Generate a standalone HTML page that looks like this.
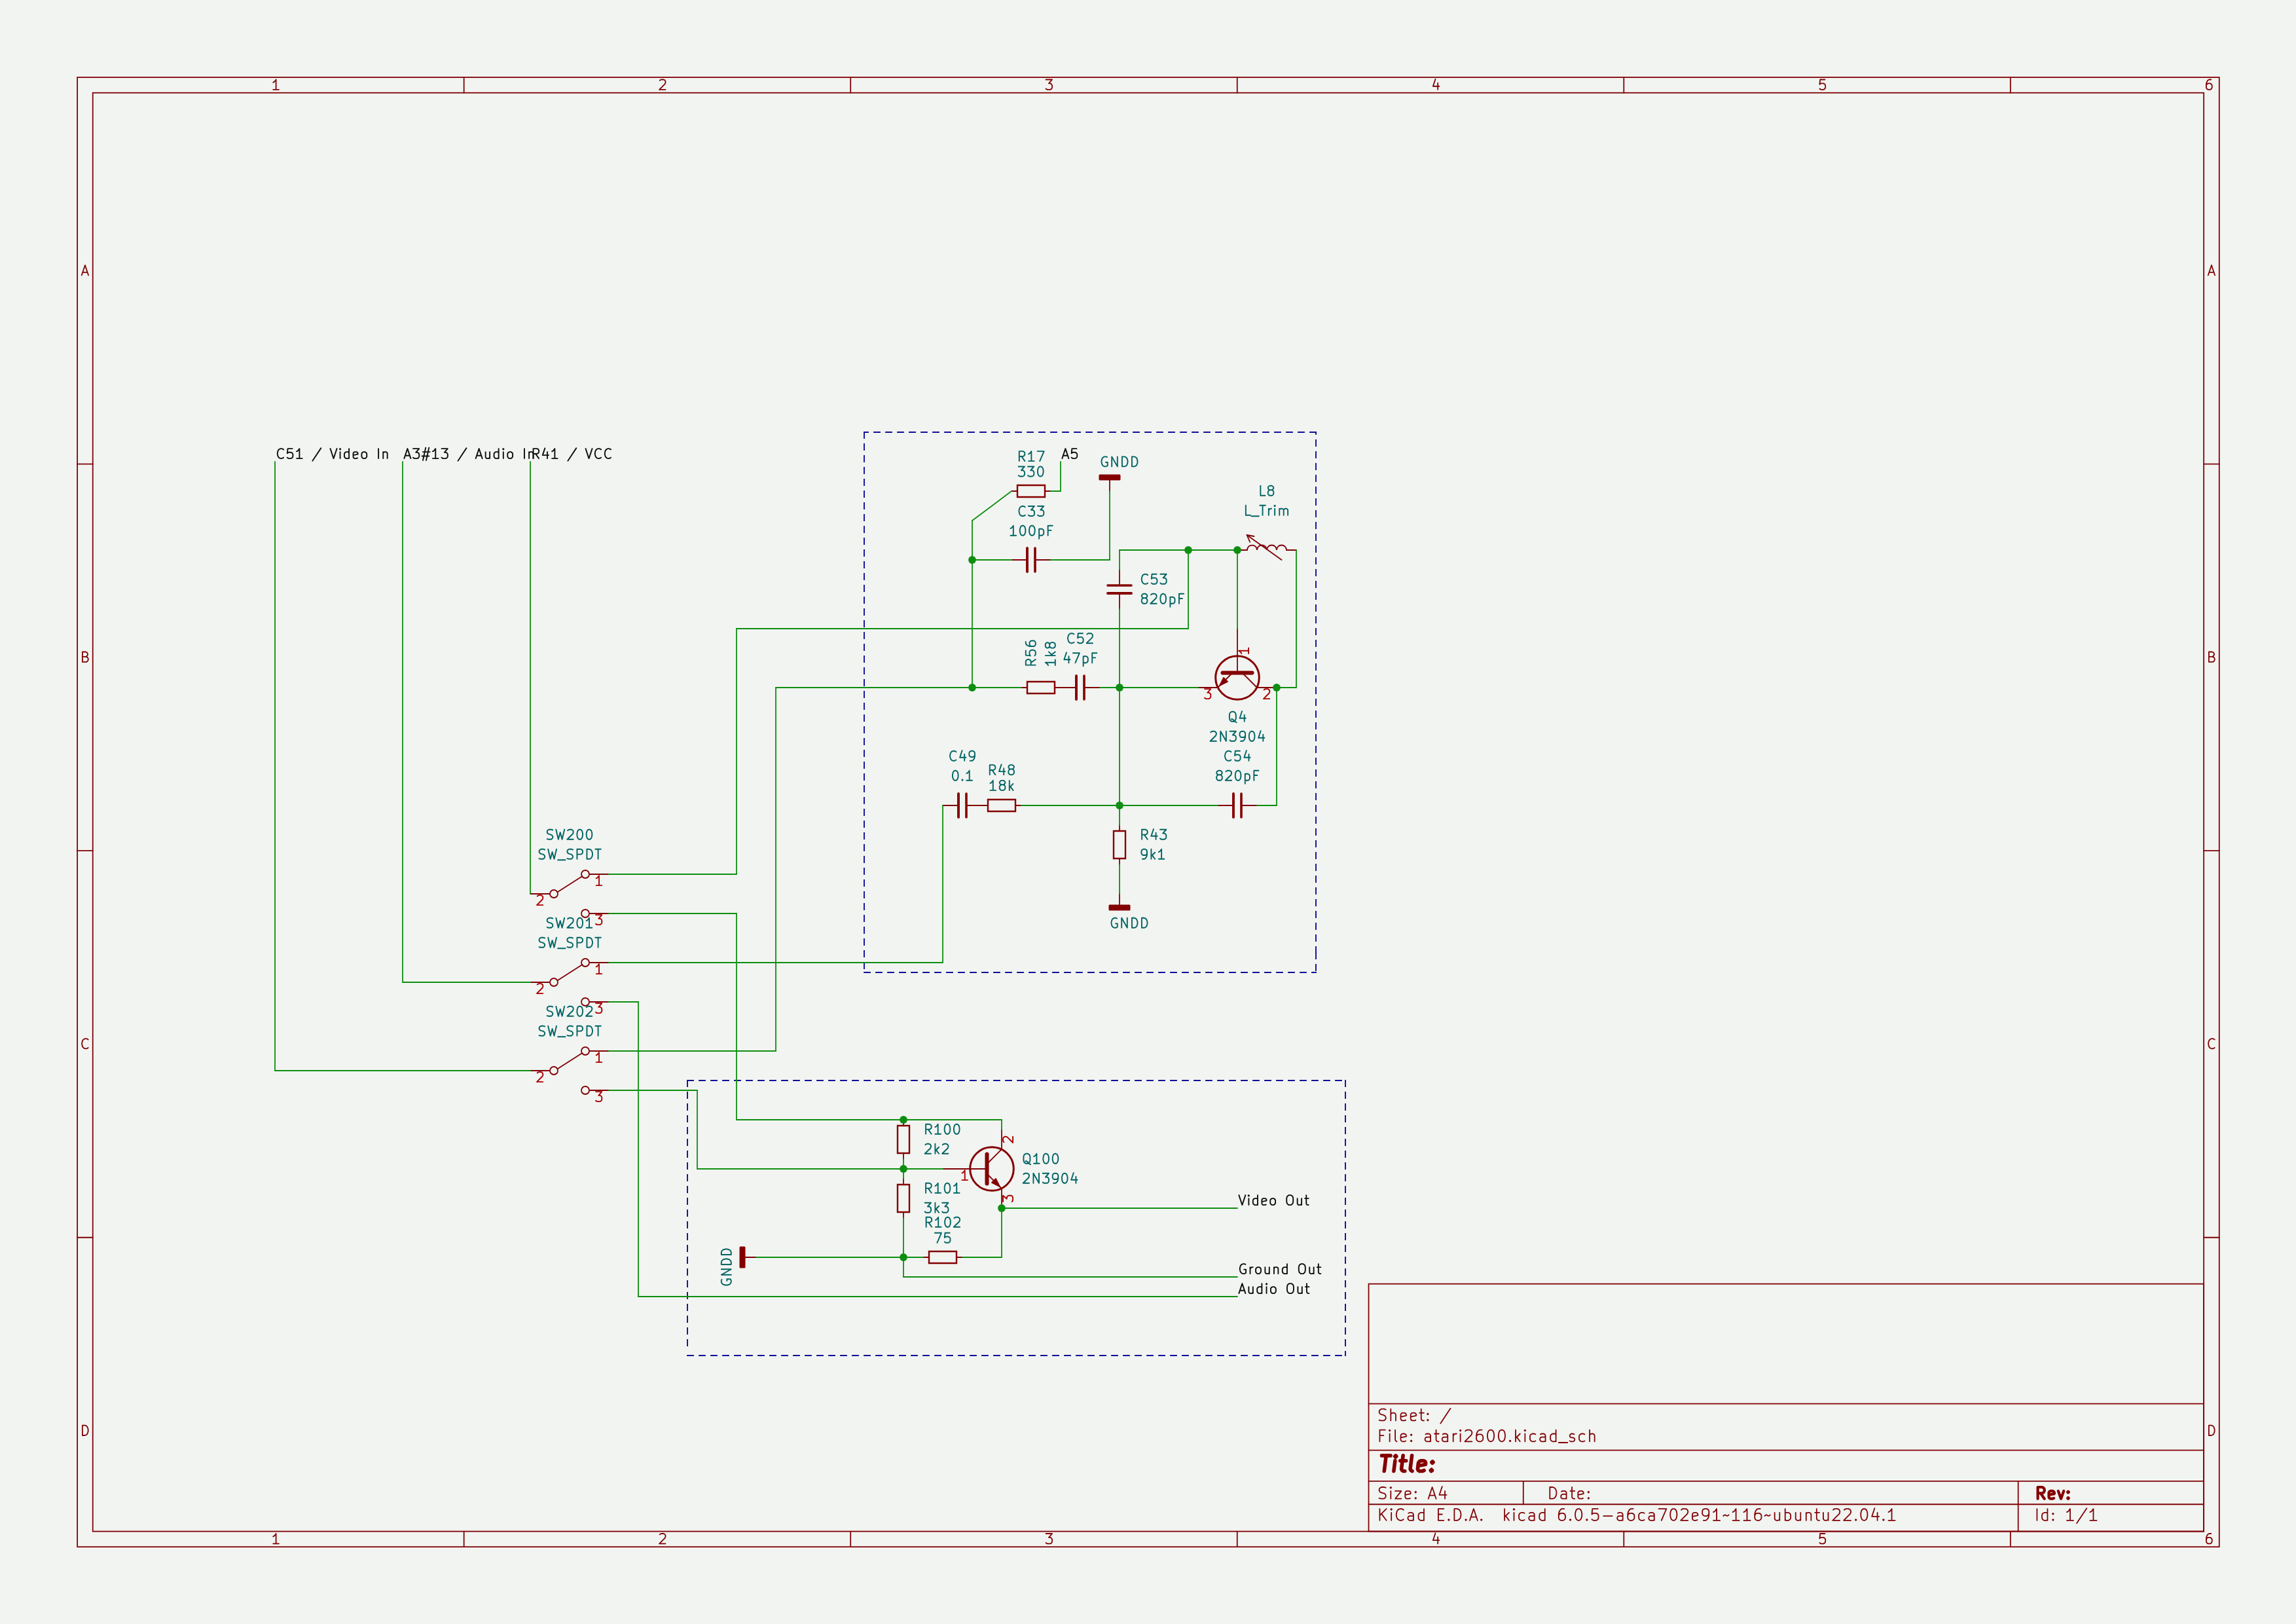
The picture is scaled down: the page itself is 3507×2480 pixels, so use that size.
<!DOCTYPE html>
<html><head><meta charset="utf-8"><title>atari2600</title>
<style>html,body{margin:0;padding:0;width:3507px;height:2480px;overflow:hidden;background:#f2f4f1;font-family:"Liberation Sans",sans-serif}svg{display:block;width:3507px;height:2480px}</style>
</head><body><svg width="3507" height="2480" viewBox="0 0 3507 2480"><rect x="118.11" y="118.11" width="3271.65" height="2244.09" stroke="#800206" stroke-width="1.8" fill="none"/>
<rect x="141.73" y="141.73" width="3224.4" height="2196.85" stroke="#800206" stroke-width="1.8" fill="none"/>
<path d="M708.66 118.11L708.66 141.73" stroke="#800206" stroke-width="1.8" stroke-linecap="round" fill="none"/>
<path d="M708.66 2362.2L708.66 2338.58" stroke="#800206" stroke-width="1.8" stroke-linecap="round" fill="none"/>
<path d="M1299.21 118.11L1299.21 141.73" stroke="#800206" stroke-width="1.8" stroke-linecap="round" fill="none"/>
<path d="M1299.21 2362.2L1299.21 2338.58" stroke="#800206" stroke-width="1.8" stroke-linecap="round" fill="none"/>
<path d="M1889.76 118.11L1889.76 141.73" stroke="#800206" stroke-width="1.8" stroke-linecap="round" fill="none"/>
<path d="M1889.76 2362.2L1889.76 2338.58" stroke="#800206" stroke-width="1.8" stroke-linecap="round" fill="none"/>
<path d="M2480.31 118.11L2480.31 141.73" stroke="#800206" stroke-width="1.8" stroke-linecap="round" fill="none"/>
<path d="M2480.31 2362.2L2480.31 2338.58" stroke="#800206" stroke-width="1.8" stroke-linecap="round" fill="none"/>
<path d="M3070.86 118.11L3070.86 141.73" stroke="#800206" stroke-width="1.8" stroke-linecap="round" fill="none"/>
<path d="M3070.86 2362.2L3070.86 2338.58" stroke="#800206" stroke-width="1.8" stroke-linecap="round" fill="none"/>
<path transform="translate(413.38 129.92)" d="M12.6 6.95L3.82 6.95M8.21 6.95L8.21 -8.41L6.75 -6.21L5.29 -4.75L3.82 -4.02" stroke="#800206" stroke-width="1.8" stroke-linecap="round" stroke-linejoin="round" fill="none"/>
<path transform="translate(413.38 2350.39)" d="M12.6 6.95L3.82 6.95M8.21 6.95L8.21 -8.41L6.75 -6.21L5.29 -4.75L3.82 -4.02" stroke="#800206" stroke-width="1.8" stroke-linecap="round" stroke-linejoin="round" fill="none"/>
<path transform="translate(1003.93 129.92)" d="M3.82 -6.95L4.56 -7.68L6.02 -8.41L9.67 -8.41L11.14 -7.68L11.87 -6.95L12.6 -5.48L12.6 -4.02L11.87 -1.83L3.09 6.95L12.6 6.95" stroke="#800206" stroke-width="1.8" stroke-linecap="round" stroke-linejoin="round" fill="none"/>
<path transform="translate(1003.93 2350.39)" d="M3.82 -6.95L4.56 -7.68L6.02 -8.41L9.67 -8.41L11.14 -7.68L11.87 -6.95L12.6 -5.48L12.6 -4.02L11.87 -1.83L3.09 6.95L12.6 6.95" stroke="#800206" stroke-width="1.8" stroke-linecap="round" stroke-linejoin="round" fill="none"/>
<path transform="translate(1594.48 129.92)" d="M3.09 -8.41L12.6 -8.41L7.48 -2.56L9.67 -2.56L11.14 -1.83L11.87 -1.1L12.6 0.37L12.6 4.02L11.87 5.48L11.14 6.21L9.67 6.95L5.29 6.95L3.82 6.21L3.09 5.48" stroke="#800206" stroke-width="1.8" stroke-linecap="round" stroke-linejoin="round" fill="none"/>
<path transform="translate(1594.48 2350.39)" d="M3.09 -8.41L12.6 -8.41L7.48 -2.56L9.67 -2.56L11.14 -1.83L11.87 -1.1L12.6 0.37L12.6 4.02L11.87 5.48L11.14 6.21L9.67 6.95L5.29 6.95L3.82 6.21L3.09 5.48" stroke="#800206" stroke-width="1.8" stroke-linecap="round" stroke-linejoin="round" fill="none"/>
<path transform="translate(2185.03 129.92)" d="M11.14 -3.29L11.14 6.95M7.48 -9.14L3.82 1.83L13.33 1.83" stroke="#800206" stroke-width="1.8" stroke-linecap="round" stroke-linejoin="round" fill="none"/>
<path transform="translate(2185.03 2350.39)" d="M11.14 -3.29L11.14 6.95M7.48 -9.14L3.82 1.83L13.33 1.83" stroke="#800206" stroke-width="1.8" stroke-linecap="round" stroke-linejoin="round" fill="none"/>
<path transform="translate(2775.59 129.92)" d="M11.87 -8.41L4.56 -8.41L3.82 -1.1L4.56 -1.83L6.02 -2.56L9.67 -2.56L11.14 -1.83L11.87 -1.1L12.6 0.37L12.6 4.02L11.87 5.48L11.14 6.21L9.67 6.95L6.02 6.95L4.56 6.21L3.82 5.48" stroke="#800206" stroke-width="1.8" stroke-linecap="round" stroke-linejoin="round" fill="none"/>
<path transform="translate(2775.59 2350.39)" d="M11.87 -8.41L4.56 -8.41L3.82 -1.1L4.56 -1.83L6.02 -2.56L9.67 -2.56L11.14 -1.83L11.87 -1.1L12.6 0.37L12.6 4.02L11.87 5.48L11.14 6.21L9.67 6.95L6.02 6.95L4.56 6.21L3.82 5.48" stroke="#800206" stroke-width="1.8" stroke-linecap="round" stroke-linejoin="round" fill="none"/>
<path transform="translate(3366.13 129.92)" d="M11.14 -8.41L8.21 -8.41L6.75 -7.68L6.02 -6.95L4.56 -4.75L3.82 -1.83L3.82 4.02L4.56 5.48L5.29 6.21L6.75 6.95L9.67 6.95L11.14 6.21L11.87 5.48L12.6 4.02L12.6 0.37L11.87 -1.1L11.14 -1.83L9.67 -2.56L6.75 -2.56L5.29 -1.83L4.56 -1.1L3.82 0.37" stroke="#800206" stroke-width="1.8" stroke-linecap="round" stroke-linejoin="round" fill="none"/>
<path transform="translate(3366.13 2350.39)" d="M11.14 -8.41L8.21 -8.41L6.75 -7.68L6.02 -6.95L4.56 -4.75L3.82 -1.83L3.82 4.02L4.56 5.48L5.29 6.21L6.75 6.95L9.67 6.95L11.14 6.21L11.87 5.48L12.6 4.02L12.6 0.37L11.87 -1.1L11.14 -1.83L9.67 -2.56L6.75 -2.56L5.29 -1.83L4.56 -1.1L3.82 0.37" stroke="#800206" stroke-width="1.8" stroke-linecap="round" stroke-linejoin="round" fill="none"/>
<path d="M118.11 708.66L141.73 708.66" stroke="#800206" stroke-width="1.8" stroke-linecap="round" fill="none"/>
<path d="M3389.76 708.66L3366.13 708.66" stroke="#800206" stroke-width="1.8" stroke-linecap="round" fill="none"/>
<path d="M118.11 1299.21L141.73 1299.21" stroke="#800206" stroke-width="1.8" stroke-linecap="round" fill="none"/>
<path d="M3389.76 1299.21L3366.13 1299.21" stroke="#800206" stroke-width="1.8" stroke-linecap="round" fill="none"/>
<path d="M118.11 1889.76L141.73 1889.76" stroke="#800206" stroke-width="1.8" stroke-linecap="round" fill="none"/>
<path d="M3389.76 1889.76L3366.13 1889.76" stroke="#800206" stroke-width="1.8" stroke-linecap="round" fill="none"/>
<path transform="translate(129.92 413.38)" d="M-3.66 2.56L3.66 2.56M-5.12 6.95L0 -8.41L5.12 6.95" stroke="#800206" stroke-width="1.8" stroke-linecap="round" stroke-linejoin="round" fill="none"/>
<path transform="translate(3377.95 413.38)" d="M-3.66 2.56L3.66 2.56M-5.12 6.95L0 -8.41L5.12 6.95" stroke="#800206" stroke-width="1.8" stroke-linecap="round" stroke-linejoin="round" fill="none"/>
<path transform="translate(129.92 1003.93)" d="M1.1 -1.1L3.29 -0.37L4.02 0.37L4.75 1.83L4.75 4.02L4.02 5.48L3.29 6.21L1.83 6.95L-4.02 6.95L-4.02 -8.41L1.1 -8.41L2.56 -7.68L3.29 -6.95L4.02 -5.48L4.02 -4.02L3.29 -2.56L2.56 -1.83L1.1 -1.1L-4.02 -1.1" stroke="#800206" stroke-width="1.8" stroke-linecap="round" stroke-linejoin="round" fill="none"/>
<path transform="translate(3377.95 1003.93)" d="M1.1 -1.1L3.29 -0.37L4.02 0.37L4.75 1.83L4.75 4.02L4.02 5.48L3.29 6.21L1.83 6.95L-4.02 6.95L-4.02 -8.41L1.1 -8.41L2.56 -7.68L3.29 -6.95L4.02 -5.48L4.02 -4.02L3.29 -2.56L2.56 -1.83L1.1 -1.1L-4.02 -1.1" stroke="#800206" stroke-width="1.8" stroke-linecap="round" stroke-linejoin="round" fill="none"/>
<path transform="translate(129.92 1594.48)" d="M4.75 5.48L4.02 6.21L1.83 6.95L0.37 6.95L-1.83 6.21L-3.29 4.75L-4.02 3.29L-4.75 0.37L-4.75 -1.83L-4.02 -4.75L-3.29 -6.21L-1.83 -7.68L0.37 -8.41L1.83 -8.41L4.02 -7.68L4.75 -6.95" stroke="#800206" stroke-width="1.8" stroke-linecap="round" stroke-linejoin="round" fill="none"/>
<path transform="translate(3377.95 1594.48)" d="M4.75 5.48L4.02 6.21L1.83 6.95L0.37 6.95L-1.83 6.21L-3.29 4.75L-4.02 3.29L-4.75 0.37L-4.75 -1.83L-4.02 -4.75L-3.29 -6.21L-1.83 -7.68L0.37 -8.41L1.83 -8.41L4.02 -7.68L4.75 -6.95" stroke="#800206" stroke-width="1.8" stroke-linecap="round" stroke-linejoin="round" fill="none"/>
<path transform="translate(129.92 2185.03)" d="M-4.02 6.95L-4.02 -8.41L-0.37 -8.41L1.83 -7.68L3.29 -6.21L4.02 -4.75L4.75 -1.83L4.75 0.37L4.02 3.29L3.29 4.75L1.83 6.21L-0.37 6.95L-4.02 6.95" stroke="#800206" stroke-width="1.8" stroke-linecap="round" stroke-linejoin="round" fill="none"/>
<path transform="translate(3377.95 2185.03)" d="M-4.02 6.95L-4.02 -8.41L-0.37 -8.41L1.83 -7.68L3.29 -6.21L4.02 -4.75L4.75 -1.83L4.75 0.37L4.02 3.29L3.29 4.75L1.83 6.21L-0.37 6.95L-4.02 6.95" stroke="#800206" stroke-width="1.8" stroke-linecap="round" stroke-linejoin="round" fill="none"/>
<rect x="2090.55" y="1960.63" width="1275.59" height="377.95" stroke="#800206" stroke-width="1.8" fill="none"/>
<path d="M2090.55 2297.24L3366.13 2297.24" stroke="#800206" stroke-width="1.8" stroke-linecap="round" fill="none"/>
<path d="M2090.55 2261.81L3366.13 2261.81" stroke="#800206" stroke-width="1.8" stroke-linecap="round" fill="none"/>
<path d="M2090.55 2214.56L3366.13 2214.56" stroke="#800206" stroke-width="1.8" stroke-linecap="round" fill="none"/>
<path d="M2090.55 2143.7L3366.13 2143.7" stroke="#800206" stroke-width="1.8" stroke-linecap="round" fill="none"/>
<path d="M2326.77 2261.81L2326.77 2297.24" stroke="#800206" stroke-width="1.8" stroke-linecap="round" fill="none"/>
<path d="M3082.67 2261.81L3082.67 2338.58" stroke="#800206" stroke-width="1.8" stroke-linecap="round" fill="none"/>
<path transform="translate(2362.2 2280.7)" d="M5.12 8.01L5.12 -9.7L9.34 -9.7L11.87 -8.86L13.55 -7.17L14.4 -5.48L15.24 -2.11L15.24 0.42L14.4 3.8L13.55 5.48L11.87 7.17L9.34 8.01L5.12 8.01M30.43 8.01L30.43 -1.27L29.58 -2.95L27.9 -3.8L24.52 -3.8L22.83 -2.95M30.43 7.17L28.74 8.01L24.52 8.01L22.83 7.17L21.99 5.48L21.99 3.8L22.83 2.11L24.52 1.27L28.74 1.27L30.43 0.42M36.33 -3.8L43.08 -3.8M38.86 -9.7L38.86 5.48L39.71 7.17L41.39 8.01L43.08 8.01M55.74 7.17L54.05 8.01L50.67 8.01L48.99 7.17L48.14 5.48L48.14 -1.27L48.99 -2.95L50.67 -3.8L54.05 -3.8L55.74 -2.95L56.58 -1.27L56.58 0.42L48.14 2.11M64.17 6.33L65.02 7.17L64.17 8.01L63.33 7.17L64.17 6.33L64.17 8.01M64.17 -2.95L65.02 -2.11L64.17 -1.27L63.33 -2.11L64.17 -2.95L64.17 -1.27" stroke="#800206" stroke-width="1.8" stroke-linecap="round" stroke-linejoin="round" fill="none"/>
<path transform="translate(2102.36 2313.77)" d="M5.12 8.01L5.12 -9.7M15.24 8.01L7.65 -2.11M15.24 -9.7L5.12 0.42M22.83 8.01L22.83 -3.8M21.99 -8.86L22.83 -9.7L23.68 -8.86L22.83 -8.01L21.99 -8.86L22.83 -9.7M41.39 6.33L40.55 7.17L38.02 8.01L36.33 8.01L33.8 7.17L32.11 5.48L31.27 3.8L30.43 0.42L30.43 -2.11L31.27 -5.48L32.11 -7.17L33.8 -8.86L36.33 -9.7L38.02 -9.7L40.55 -8.86L41.39 -8.01M56.58 8.01L56.58 -1.27L55.74 -2.95L54.05 -3.8L50.67 -3.8L48.99 -2.95M56.58 7.17L54.89 8.01L50.67 8.01L48.99 7.17L48.14 5.48L48.14 3.8L48.99 2.11L50.67 1.27L54.89 1.27L56.58 0.42M72.61 8.01L72.61 -9.7M72.61 7.17L70.92 8.01L67.55 8.01L65.86 7.17L65.02 6.33L64.17 4.64L64.17 -0.42L65.02 -2.11L65.86 -2.95L67.55 -3.8L70.92 -3.8L72.61 -2.95M94.54 -1.27L100.45 -1.27M102.98 8.01L94.54 8.01L94.54 -9.7L102.98 -9.7M110.57 6.33L111.42 7.17L110.57 8.01L109.73 7.17L110.57 6.33L110.57 8.01M119.01 8.01L119.01 -9.7L123.23 -9.7L125.76 -8.86L127.45 -7.17L128.29 -5.48L129.13 -2.11L129.13 0.42L128.29 3.8L127.45 5.48L125.76 7.17L123.23 8.01L119.01 8.01M136.73 6.33L137.57 7.17L136.73 8.01L135.88 7.17L136.73 6.33L136.73 8.01M144.32 2.95L152.76 2.95M142.63 8.01L148.54 -9.7L154.44 8.01M160.35 6.33L161.19 7.17L160.35 8.01L159.5 7.17L160.35 6.33L160.35 8.01M195.78 8.01L195.78 -9.7M197.47 1.27L202.53 8.01M202.53 -3.8L195.78 2.95M210.12 8.01L210.12 -3.8M209.28 -8.86L210.12 -9.7L210.97 -8.86L210.12 -8.01L209.28 -8.86L210.12 -9.7M226.15 7.17L224.47 8.01L221.09 8.01L219.4 7.17L218.56 6.33L217.72 4.64L217.72 -0.42L218.56 -2.11L219.4 -2.95L221.09 -3.8L224.47 -3.8L226.15 -2.95M241.34 8.01L241.34 -1.27L240.49 -2.95L238.81 -3.8L235.43 -3.8L233.75 -2.95M241.34 7.17L239.65 8.01L235.43 8.01L233.75 7.17L232.9 5.48L232.9 3.8L233.75 2.11L235.43 1.27L239.65 1.27L241.34 0.42M257.37 8.01L257.37 -9.7M257.37 7.17L255.68 8.01L252.31 8.01L250.62 7.17L249.77 6.33L248.93 4.64L248.93 -0.42L249.77 -2.11L250.62 -2.95L252.31 -3.8L255.68 -3.8L257.37 -2.95M286.89 -9.7L283.52 -9.7L281.83 -8.86L280.99 -8.01L279.3 -5.48L278.46 -2.11L278.46 4.64L279.3 6.33L280.15 7.17L281.83 8.01L285.21 8.01L286.89 7.17L287.74 6.33L288.58 4.64L288.58 0.42L287.74 -1.27L286.89 -2.11L285.21 -2.95L281.83 -2.95L280.15 -2.11L279.3 -1.27L278.46 0.42M296.17 6.33L297.02 7.17L296.17 8.01L295.33 7.17L296.17 6.33L296.17 8.01M307.99 -9.7L309.67 -9.7L311.36 -8.86L312.2 -8.01L313.05 -6.33L313.89 -2.95L313.89 1.27L313.05 4.64L312.2 6.33L311.36 7.17L309.67 8.01L307.99 8.01L306.3 7.17L305.46 6.33L304.61 4.64L303.77 1.27L303.77 -2.95L304.61 -6.33L305.46 -8.01L306.3 -8.86L307.99 -9.7M321.48 6.33L322.33 7.17L321.48 8.01L320.64 7.17L321.48 6.33L321.48 8.01M338.36 -9.7L329.92 -9.7L329.08 -1.27L329.92 -2.11L331.61 -2.95L335.83 -2.95L337.51 -2.11L338.36 -1.27L339.2 0.42L339.2 4.64L338.36 6.33L337.51 7.17L335.83 8.01L331.61 8.01L329.92 7.17L329.08 6.33M346.79 1.27L360.29 1.27M376.32 8.01L376.32 -1.27L375.48 -2.95L373.79 -3.8L370.42 -3.8L368.73 -2.95M376.32 7.17L374.63 8.01L370.42 8.01L368.73 7.17L367.88 5.48L367.88 3.8L368.73 2.11L370.42 1.27L374.63 1.27L376.32 0.42M392.35 -9.7L388.98 -9.7L387.29 -8.86L386.44 -8.01L384.76 -5.48L383.91 -2.11L383.91 4.64L384.76 6.33L385.6 7.17L387.29 8.01L390.66 8.01L392.35 7.17L393.19 6.33L394.04 4.64L394.04 0.42L393.19 -1.27L392.35 -2.11L390.66 -2.95L387.29 -2.95L385.6 -2.11L384.76 -1.27L383.91 0.42M409.22 7.17L407.54 8.01L404.16 8.01L402.47 7.17L401.63 6.33L400.79 4.64L400.79 -0.42L401.63 -2.11L402.47 -2.95L404.16 -3.8L407.54 -3.8L409.22 -2.95M424.41 8.01L424.41 -1.27L423.57 -2.95L421.88 -3.8L418.5 -3.8L416.82 -2.95M424.41 7.17L422.72 8.01L418.5 8.01L416.82 7.17L415.97 5.48L415.97 3.8L416.82 2.11L418.5 1.27L422.72 1.27L424.41 0.42M431.16 -9.7L442.97 -9.7L435.38 8.01M453.09 -9.7L454.78 -9.7L456.47 -8.86L457.31 -8.01L458.15 -6.33L459 -2.95L459 1.27L458.15 4.64L457.31 6.33L456.47 7.17L454.78 8.01L453.09 8.01L451.41 7.17L450.56 6.33L449.72 4.64L448.87 1.27L448.87 -2.95L449.72 -6.33L450.56 -8.01L451.41 -8.86L453.09 -9.7M465.75 -8.01L466.59 -8.86L468.28 -9.7L472.5 -9.7L474.18 -8.86L475.03 -8.01L475.87 -6.33L475.87 -4.64L475.03 -2.11L464.9 8.01L475.87 8.01M490.21 7.17L488.53 8.01L485.15 8.01L483.46 7.17L482.62 5.48L482.62 -1.27L483.46 -2.95L485.15 -3.8L488.53 -3.8L490.21 -2.95L491.06 -1.27L491.06 0.42L482.62 2.11M499.49 8.01L502.87 8.01L504.55 7.17L505.4 6.33L507.09 3.8L507.93 0.42L507.93 -6.33L507.09 -8.01L506.24 -8.86L504.55 -9.7L501.18 -9.7L499.49 -8.86L498.65 -8.01L497.81 -6.33L497.81 -2.11L498.65 -0.42L499.49 0.42L501.18 1.27L504.55 1.27L506.24 0.42L507.09 -0.42L507.93 -2.11M524.8 8.01L514.68 8.01M519.74 8.01L519.74 -9.7L518.05 -7.17L516.37 -5.48L514.68 -4.64M529.86 1.27L530.71 0.42L532.39 -0.42L535.77 1.27L537.46 0.42L538.3 -0.42M554.33 8.01L544.21 8.01M549.27 8.01L549.27 -9.7L547.58 -7.17L545.89 -5.48L544.21 -4.64M571.2 8.01L561.08 8.01M566.14 8.01L566.14 -9.7L564.45 -7.17L562.77 -5.48L561.08 -4.64M586.39 -9.7L583.01 -9.7L581.33 -8.86L580.48 -8.01L578.8 -5.48L577.95 -2.11L577.95 4.64L578.8 6.33L579.64 7.17L581.33 8.01L584.7 8.01L586.39 7.17L587.23 6.33L588.08 4.64L588.08 0.42L587.23 -1.27L586.39 -2.11L584.7 -2.95L581.33 -2.95L579.64 -2.11L578.8 -1.27L577.95 0.42M593.14 1.27L593.98 0.42L595.67 -0.42L599.04 1.27L600.73 0.42L601.57 -0.42M615.92 -3.8L615.92 8.01M608.32 -3.8L608.32 5.48L609.17 7.17L610.85 8.01L613.38 8.01L615.07 7.17L615.92 6.33M624.35 8.01L624.35 -9.7M624.35 -2.95L626.04 -3.8L629.41 -3.8L631.1 -2.95L631.94 -2.11L632.79 -0.42L632.79 4.64L631.94 6.33L631.1 7.17L629.41 8.01L626.04 8.01L624.35 7.17M647.97 -3.8L647.97 8.01M640.38 -3.8L640.38 5.48L641.22 7.17L642.91 8.01L645.44 8.01L647.13 7.17L647.97 6.33M656.41 -3.8L656.41 8.01M656.41 -2.11L657.25 -2.95L658.94 -3.8L661.47 -3.8L663.16 -2.95L664 -1.27L664 8.01M669.91 -3.8L676.66 -3.8M672.44 -9.7L672.44 5.48L673.28 7.17L674.97 8.01L676.66 8.01M690.16 -3.8L690.16 8.01M682.56 -3.8L682.56 5.48L683.41 7.17L685.09 8.01L687.63 8.01L689.31 7.17L690.16 6.33M697.75 -8.01L698.59 -8.86L700.28 -9.7L704.5 -9.7L706.19 -8.86L707.03 -8.01L707.87 -6.33L707.87 -4.64L707.03 -2.11L696.91 8.01L707.87 8.01M714.62 -8.01L715.47 -8.86L717.15 -9.7L721.37 -9.7L723.06 -8.86L723.9 -8.01L724.75 -6.33L724.75 -4.64L723.9 -2.11L713.78 8.01L724.75 8.01M732.34 6.33L733.18 7.17L732.34 8.01L731.49 7.17L732.34 6.33L732.34 8.01M744.15 -9.7L745.84 -9.7L747.52 -8.86L748.37 -8.01L749.21 -6.33L750.05 -2.95L750.05 1.27L749.21 4.64L748.37 6.33L747.52 7.17L745.84 8.01L744.15 8.01L742.46 7.17L741.62 6.33L740.77 4.64L739.93 1.27L739.93 -2.95L740.77 -6.33L741.62 -8.01L742.46 -8.86L744.15 -9.7M765.24 -3.8L765.24 8.01M761.02 -10.55L756.8 2.11L767.77 2.11M774.52 6.33L775.36 7.17L774.52 8.01L773.68 7.17L774.52 6.33L774.52 8.01M792.24 8.01L782.11 8.01M787.18 8.01L787.18 -9.7L785.49 -7.17L783.8 -5.48L782.11 -4.64" stroke="#800206" stroke-width="1.8" stroke-linecap="round" stroke-linejoin="round" fill="none"/>
<path transform="translate(3106.29 2280.7)" d="M16.43 8.01L10.53 -0.42M6.31 8.01L6.31 -9.7L13.06 -9.7L14.75 -8.86L15.59 -8.01L16.43 -6.33L16.43 -3.8L15.59 -2.11L14.75 -1.27L13.06 -0.42L6.31 -0.42M30.77 7.17L29.09 8.01L25.71 8.01L24.03 7.17L23.18 5.48L23.18 -1.27L24.03 -2.95L25.71 -3.8L29.09 -3.8L30.77 -2.95L31.62 -1.27L31.62 0.42L23.18 2.11M37.52 -3.8L41.74 8.01L45.96 -3.8M52.71 6.33L53.55 7.17L52.71 8.01L51.87 7.17L52.71 6.33L52.71 8.01M52.71 -2.95L53.55 -2.11L52.71 -1.27L51.87 -2.11L52.71 -2.95L52.71 -1.27" stroke="#840000" stroke-width="4.18" stroke-linecap="round" stroke-linejoin="round" fill="none"/>
<path transform="translate(2102.36 2280.7)" d="M4.27 7.17L6.81 8.01L11.02 8.01L12.71 7.17L13.55 6.33L14.4 4.64L14.4 2.95L13.55 1.27L12.71 0.42L11.02 -0.42L7.65 -1.27L5.96 -2.11L5.12 -2.95L4.27 -4.64L4.27 -6.33L5.12 -8.01L5.96 -8.86L7.65 -9.7L11.87 -9.7L14.4 -8.86M21.99 8.01L21.99 -3.8M21.15 -8.86L21.99 -9.7L22.83 -8.86L21.99 -8.01L21.15 -8.86L21.99 -9.7M28.74 -3.8L38.02 -3.8L28.74 8.01L38.02 8.01M51.52 7.17L49.83 8.01L46.46 8.01L44.77 7.17L43.93 5.48L43.93 -1.27L44.77 -2.95L46.46 -3.8L49.83 -3.8L51.52 -2.95L52.36 -1.27L52.36 0.42L43.93 2.11M59.95 6.33L60.8 7.17L59.95 8.01L59.11 7.17L59.95 6.33L59.95 8.01M59.95 -2.95L60.8 -2.11L59.95 -1.27L59.11 -2.11L59.95 -2.95L59.95 -1.27M81.05 2.95L89.48 2.95M79.36 8.01L85.26 -9.7L91.17 8.01M104.67 -3.8L104.67 8.01M100.45 -10.55L96.23 2.11L107.2 2.11" stroke="#800206" stroke-width="1.8" stroke-linecap="round" stroke-linejoin="round" fill="none"/>
<path transform="translate(3106.29 2313.77)" d="M5.12 8.01L5.12 -9.7M21.15 8.01L21.15 -9.7M21.15 7.17L19.46 8.01L16.09 8.01L14.4 7.17L13.55 6.33L12.71 4.64L12.71 -0.42L13.55 -2.11L14.4 -2.95L16.09 -3.8L19.46 -3.8L21.15 -2.95M29.58 6.33L30.43 7.17L29.58 8.01L28.74 7.17L29.58 6.33L29.58 8.01M29.58 -2.95L30.43 -2.11L29.58 -1.27L28.74 -2.11L29.58 -2.95L29.58 -1.27M60.8 8.01L50.67 8.01M55.74 8.01L55.74 -9.7L54.05 -7.17L52.36 -5.48L50.67 -4.64M81.05 -10.55L65.86 12.23M96.23 8.01L86.11 8.01M91.17 8.01L91.17 -9.7L89.48 -7.17L87.8 -5.48L86.11 -4.64" stroke="#800206" stroke-width="1.8" stroke-linecap="round" stroke-linejoin="round" fill="none"/>
<path transform="translate(2102.36 2235.82)" d="M8.13 -12.94L21.63 -12.94M11.93 10.69L14.88 -12.94M26.55 10.69L28.52 -5.06M28.24 -11.81L29.5 -12.94L30.49 -11.81L29.22 -10.69L28.24 -11.81L29.5 -12.94M36.39 -5.06L45.39 -5.06M40.75 -12.94L38.22 7.31L39.06 9.56L41.17 10.69L43.42 10.69M54.67 10.69L52.56 9.56L51.72 7.31L54.25 -12.94M72.81 9.56L70.42 10.69L65.92 10.69L63.81 9.56L62.97 7.31L64.09 -1.69L65.5 -3.94L67.89 -5.06L72.39 -5.06L74.5 -3.94L75.34 -1.69L75.06 0.56L63.53 2.81M84.2 8.44L85.18 9.56L83.92 10.69L82.93 9.56L84.2 8.44L83.92 10.69M85.75 -3.94L86.73 -2.81L85.46 -1.69L84.48 -2.81L85.75 -3.94L85.46 -1.69" stroke="#840000" stroke-width="5.57" stroke-linecap="round" stroke-linejoin="round" fill="none"/>
<path transform="translate(2102.36 2193.3)" d="M11.02 -1.27L5.12 -1.27M5.12 8.01L5.12 -9.7L13.55 -9.7M20.3 8.01L20.3 -3.8M19.46 -8.86L20.3 -9.7L21.15 -8.86L20.3 -8.01L19.46 -8.86L20.3 -9.7M31.27 8.01L29.58 7.17L28.74 5.48L28.74 -9.7M44.77 7.17L43.08 8.01L39.71 8.01L38.02 7.17L37.18 5.48L37.18 -1.27L38.02 -2.95L39.71 -3.8L43.08 -3.8L44.77 -2.95L45.61 -1.27L45.61 0.42L37.18 2.11M53.21 6.33L54.05 7.17L53.21 8.01L52.36 7.17L53.21 6.33L53.21 8.01M53.21 -2.95L54.05 -2.11L53.21 -1.27L52.36 -2.11L53.21 -2.95L53.21 -1.27M82.73 8.01L82.73 -1.27L81.89 -2.95L80.2 -3.8L76.83 -3.8L75.14 -2.95M82.73 7.17L81.05 8.01L76.83 8.01L75.14 7.17L74.3 5.48L74.3 3.8L75.14 2.11L76.83 1.27L81.05 1.27L82.73 0.42M88.64 -3.8L95.39 -3.8M91.17 -9.7L91.17 5.48L92.01 7.17L93.7 8.01L95.39 8.01M108.89 8.01L108.89 -1.27L108.04 -2.95L106.36 -3.8L102.98 -3.8L101.29 -2.95M108.89 7.17L107.2 8.01L102.98 8.01L101.29 7.17L100.45 5.48L100.45 3.8L101.29 2.11L102.98 1.27L107.2 1.27L108.89 0.42M117.32 8.01L117.32 -3.8M117.32 -0.42L118.17 -2.11L119.01 -2.95L120.7 -3.8L122.38 -3.8M128.29 8.01L128.29 -3.8M127.45 -8.86L128.29 -9.7L129.13 -8.86L128.29 -8.01L127.45 -8.86L128.29 -9.7M135.88 -8.01L136.73 -8.86L138.41 -9.7L142.63 -9.7L144.32 -8.86L145.16 -8.01L146.01 -6.33L146.01 -4.64L145.16 -2.11L135.04 8.01L146.01 8.01M161.19 -9.7L157.82 -9.7L156.13 -8.86L155.29 -8.01L153.6 -5.48L152.76 -2.11L152.76 4.64L153.6 6.33L154.44 7.17L156.13 8.01L159.5 8.01L161.19 7.17L162.04 6.33L162.88 4.64L162.88 0.42L162.04 -1.27L161.19 -2.11L159.5 -2.95L156.13 -2.95L154.44 -2.11L153.6 -1.27L152.76 0.42M173.85 -9.7L175.53 -9.7L177.22 -8.86L178.06 -8.01L178.91 -6.33L179.75 -2.95L179.75 1.27L178.91 4.64L178.06 6.33L177.22 7.17L175.53 8.01L173.85 8.01L172.16 7.17L171.32 6.33L170.47 4.64L169.63 1.27L169.63 -2.95L170.47 -6.33L171.32 -8.01L172.16 -8.86L173.85 -9.7M190.72 -9.7L192.41 -9.7L194.09 -8.86L194.94 -8.01L195.78 -6.33L196.63 -2.95L196.63 1.27L195.78 4.64L194.94 6.33L194.09 7.17L192.41 8.01L190.72 8.01L189.03 7.17L188.19 6.33L187.35 4.64L186.5 1.27L186.5 -2.95L187.35 -6.33L188.19 -8.01L189.03 -8.86L190.72 -9.7M204.22 6.33L205.06 7.17L204.22 8.01L203.37 7.17L204.22 6.33L204.22 8.01M212.65 8.01L212.65 -9.7M214.34 1.27L219.4 8.01M219.4 -3.8L212.65 2.95M227 8.01L227 -3.8M226.15 -8.86L227 -9.7L227.84 -8.86L227 -8.01L226.15 -8.86L227 -9.7M243.03 7.17L241.34 8.01L237.96 8.01L236.28 7.17L235.43 6.33L234.59 4.64L234.59 -0.42L235.43 -2.11L236.28 -2.95L237.96 -3.8L241.34 -3.8L243.03 -2.95M258.21 8.01L258.21 -1.27L257.37 -2.95L255.68 -3.8L252.31 -3.8L250.62 -2.95M258.21 7.17L256.52 8.01L252.31 8.01L250.62 7.17L249.77 5.48L249.77 3.8L250.62 2.11L252.31 1.27L256.52 1.27L258.21 0.42M274.24 8.01L274.24 -9.7M274.24 7.17L272.55 8.01L269.18 8.01L267.49 7.17L266.65 6.33L265.8 4.64L265.8 -0.42L266.65 -2.11L267.49 -2.95L269.18 -3.8L272.55 -3.8L274.24 -2.95M278.46 9.7L291.96 9.7M295.33 7.17L297.02 8.01L300.39 8.01L302.08 7.17L302.92 5.48L302.92 4.64L302.08 2.95L300.39 2.11L297.86 2.11L296.17 1.27L295.33 -0.42L295.33 -1.27L296.17 -2.95L297.86 -3.8L300.39 -3.8L302.08 -2.95M318.11 7.17L316.42 8.01L313.05 8.01L311.36 7.17L310.52 6.33L309.67 4.64L309.67 -0.42L310.52 -2.11L311.36 -2.95L313.05 -3.8L316.42 -3.8L318.11 -2.95M325.7 8.01L325.7 -9.7M333.3 8.01L333.3 -1.27L332.45 -2.95L330.76 -3.8L328.23 -3.8L326.55 -2.95L325.7 -2.11" stroke="#800206" stroke-width="1.8" stroke-linecap="round" stroke-linejoin="round" fill="none"/>
<path transform="translate(2102.36 2161.41)" d="M4.27 7.17L6.81 8.01L11.02 8.01L12.71 7.17L13.55 6.33L14.4 4.64L14.4 2.95L13.55 1.27L12.71 0.42L11.02 -0.42L7.65 -1.27L5.96 -2.11L5.12 -2.95L4.27 -4.64L4.27 -6.33L5.12 -8.01L5.96 -8.86L7.65 -9.7L11.87 -9.7L14.4 -8.86M21.99 8.01L21.99 -9.7M29.58 8.01L29.58 -1.27L28.74 -2.95L27.05 -3.8L24.52 -3.8L22.83 -2.95L21.99 -2.11M44.77 7.17L43.08 8.01L39.71 8.01L38.02 7.17L37.18 5.48L37.18 -1.27L38.02 -2.95L39.71 -3.8L43.08 -3.8L44.77 -2.95L45.61 -1.27L45.61 0.42L37.18 2.11M59.95 7.17L58.27 8.01L54.89 8.01L53.21 7.17L52.36 5.48L52.36 -1.27L53.21 -2.95L54.89 -3.8L58.27 -3.8L59.95 -2.95L60.8 -1.27L60.8 0.42L52.36 2.11M65.86 -3.8L72.61 -3.8M68.39 -9.7L68.39 5.48L69.24 7.17L70.92 8.01L72.61 8.01M78.52 6.33L79.36 7.17L78.52 8.01L77.67 7.17L78.52 6.33L78.52 8.01M78.52 -2.95L79.36 -2.11L78.52 -1.27L77.67 -2.11L78.52 -2.95L78.52 -1.27M113.1 -10.55L97.92 12.23" stroke="#800206" stroke-width="1.8" stroke-linecap="round" stroke-linejoin="round" fill="none"/>
<path d="M1596 741L1596 759L1554 759L1554 741Z" stroke="#840000" stroke-width="2.4" stroke-linecap="round" stroke-linejoin="miter" fill="none"/>
<path d="M1605 750L1596 750" stroke="#800206" stroke-width="1.8" stroke-linecap="round" fill="none"/>
<path d="M1545 750L1554 750" stroke="#800206" stroke-width="1.8" stroke-linecap="round" fill="none"/>
<path d="M1569 837L1569 873" stroke="#840000" stroke-width="3.9" stroke-linecap="round" fill="none"/>
<path d="M1581 837L1581 873" stroke="#840000" stroke-width="3.6" stroke-linecap="round" fill="none"/>
<path d="M1605 855L1581 855" stroke="#800206" stroke-width="1.8" stroke-linecap="round" fill="none"/>
<path d="M1545 855L1569 855" stroke="#800206" stroke-width="1.8" stroke-linecap="round" fill="none"/>
<path d="M1710 732L1680 732L1680 726L1710 726Z" stroke="#840000" stroke-width="3" stroke-linecap="round" stroke-linejoin="round" fill="#840000"/>
<path d="M1695 750L1695 732" stroke="#800206" stroke-width="1.8" stroke-linecap="round" fill="none"/>
<path d="M1692 906L1728 906" stroke="#840000" stroke-width="3.9" stroke-linecap="round" fill="none"/>
<path d="M1692 894L1728 894" stroke="#840000" stroke-width="3.6" stroke-linecap="round" fill="none"/>
<path d="M1710 870L1710 894" stroke="#800206" stroke-width="1.8" stroke-linecap="round" fill="none"/>
<path d="M1710 930L1710 906" stroke="#800206" stroke-width="1.8" stroke-linecap="round" fill="none"/>
<path d="M1905 840A7.5 7.5 0 0 1 1920 840A7.5 7.5 0 0 1 1935 840A7.5 7.5 0 0 1 1950 840A7.5 7.5 0 0 1 1965 840" stroke="#800206" stroke-width="1.8" stroke-linecap="round" fill="none"/>
<path d="M1890 840L1905 840" stroke="#800206" stroke-width="1.8" stroke-linecap="round" fill="none"/>
<path d="M1980 840L1965 840" stroke="#800206" stroke-width="1.8" stroke-linecap="round" fill="none"/>
<path d="M1957.6 855.1L1904.5 817" stroke="#800206" stroke-width="1.8" stroke-linecap="round" fill="none"/>
<path d="M1915.5 819L1904.5 817L1909.2 827.7" stroke="#800206" stroke-width="1.8" stroke-linecap="round" stroke-linejoin="round" fill="none"/>
<path d="M1611 1041L1611 1059L1569 1059L1569 1041Z" stroke="#840000" stroke-width="2.4" stroke-linecap="round" stroke-linejoin="miter" fill="none"/>
<path d="M1620 1050L1611 1050" stroke="#800206" stroke-width="1.8" stroke-linecap="round" fill="none"/>
<path d="M1560 1050L1569 1050" stroke="#800206" stroke-width="1.8" stroke-linecap="round" fill="none"/>
<path d="M1644 1032L1644 1068" stroke="#840000" stroke-width="3.9" stroke-linecap="round" fill="none"/>
<path d="M1656 1032L1656 1068" stroke="#840000" stroke-width="3.6" stroke-linecap="round" fill="none"/>
<path d="M1680 1050L1656 1050" stroke="#800206" stroke-width="1.8" stroke-linecap="round" fill="none"/>
<path d="M1620 1050L1644 1050" stroke="#800206" stroke-width="1.8" stroke-linecap="round" fill="none"/>
<path d="M1897.5 1027.5L1920 1050" stroke="#800206" stroke-width="1.8" stroke-linecap="round" fill="none"/>
<path d="M1882.5 1027.5L1860 1050" stroke="#800206" stroke-width="1.8" stroke-linecap="round" fill="none"/>
<path d="M1912.5 1027.5L1867.5 1027.5" stroke="#840000" stroke-width="6" stroke-linecap="round" fill="none"/>
<path d="M1869 1035L1875 1041L1863 1047Z" stroke="#840000" stroke-width="1.8" stroke-linecap="round" stroke-linejoin="round" fill="#840000"/>
<circle cx="1890" cy="1035" r="33.3" stroke="#840000" stroke-width="3" fill="none"/>
<path d="M1890 960L1890 1027.5" stroke="#800206" stroke-width="1.8" stroke-linecap="round" fill="none"/>
<path d="M1950 1050L1920 1050" stroke="#800206" stroke-width="1.8" stroke-linecap="round" fill="none"/>
<path d="M1830 1050L1860 1050" stroke="#800206" stroke-width="1.8" stroke-linecap="round" fill="none"/>
<path transform="translate(1892.8 993.75) rotate(-90)" d="M4.29 14.29L-4.29 14.29M0 14.29L0 -0.71L-1.43 1.43L-2.86 2.86L-4.29 3.57" stroke="#a90000" stroke-width="1.9" stroke-linecap="round" stroke-linejoin="round" fill="none"/>
<path transform="translate(1935 1052.8)" d="M-4.29 0.71L-3.57 0L-2.14 -0.71L1.43 -0.71L2.86 0L3.57 0.71L4.29 2.14L4.29 3.57L3.57 5.71L-5 14.29L4.29 14.29" stroke="#a90000" stroke-width="1.9" stroke-linecap="round" stroke-linejoin="round" fill="none"/>
<path transform="translate(1845 1052.8)" d="M-5 -0.71L4.29 -0.71L-0.71 5L1.43 5L2.86 5.71L3.57 6.43L4.29 7.86L4.29 11.43L3.57 12.86L2.86 13.57L1.43 14.29L-2.86 14.29L-4.29 13.57L-5 12.86" stroke="#a90000" stroke-width="1.9" stroke-linecap="round" stroke-linejoin="round" fill="none"/>
<path d="M1464 1212L1464 1248" stroke="#840000" stroke-width="3.9" stroke-linecap="round" fill="none"/>
<path d="M1476 1212L1476 1248" stroke="#840000" stroke-width="3.6" stroke-linecap="round" fill="none"/>
<path d="M1500 1230L1476 1230" stroke="#800206" stroke-width="1.8" stroke-linecap="round" fill="none"/>
<path d="M1440 1230L1464 1230" stroke="#800206" stroke-width="1.8" stroke-linecap="round" fill="none"/>
<path d="M1551 1221L1551 1239L1509 1239L1509 1221Z" stroke="#840000" stroke-width="2.4" stroke-linecap="round" stroke-linejoin="miter" fill="none"/>
<path d="M1560 1230L1551 1230" stroke="#800206" stroke-width="1.8" stroke-linecap="round" fill="none"/>
<path d="M1500 1230L1509 1230" stroke="#800206" stroke-width="1.8" stroke-linecap="round" fill="none"/>
<path d="M1884 1212L1884 1248" stroke="#840000" stroke-width="3.9" stroke-linecap="round" fill="none"/>
<path d="M1896 1212L1896 1248" stroke="#840000" stroke-width="3.6" stroke-linecap="round" fill="none"/>
<path d="M1920 1230L1896 1230" stroke="#800206" stroke-width="1.8" stroke-linecap="round" fill="none"/>
<path d="M1860 1230L1884 1230" stroke="#800206" stroke-width="1.8" stroke-linecap="round" fill="none"/>
<path d="M1701 1269L1719 1269L1719 1311L1701 1311Z" stroke="#840000" stroke-width="2.4" stroke-linecap="round" stroke-linejoin="miter" fill="none"/>
<path d="M1710 1260L1710 1269" stroke="#800206" stroke-width="1.8" stroke-linecap="round" fill="none"/>
<path d="M1710 1320L1710 1311" stroke="#800206" stroke-width="1.8" stroke-linecap="round" fill="none"/>
<path d="M1695 1383L1725 1383L1725 1389L1695 1389Z" stroke="#840000" stroke-width="3" stroke-linecap="round" stroke-linejoin="round" fill="#840000"/>
<path d="M1710 1365L1710 1383" stroke="#800206" stroke-width="1.8" stroke-linecap="round" fill="none"/>
<circle cx="846" cy="1365" r="6" stroke="#800206" stroke-width="1.8" fill="none"/>
<circle cx="894" cy="1335" r="6" stroke="#800206" stroke-width="1.8" fill="none"/>
<circle cx="894" cy="1395" r="6" stroke="#800206" stroke-width="1.8" fill="none"/>
<path d="M852 1362L889.5 1338" stroke="#800206" stroke-width="1.8" stroke-linecap="round" fill="none"/>
<path d="M930 1335L900 1335" stroke="#800206" stroke-width="1.8" stroke-linecap="round" fill="none"/>
<path d="M810 1365L840 1365" stroke="#800206" stroke-width="1.8" stroke-linecap="round" fill="none"/>
<path d="M930 1395L900 1395" stroke="#800206" stroke-width="1.8" stroke-linecap="round" fill="none"/>
<path transform="translate(915 1337.8)" d="M4.29 14.29L-4.29 14.29M0 14.29L0 -0.71L-1.43 1.43L-2.86 2.86L-4.29 3.57" stroke="#a90000" stroke-width="1.9" stroke-linecap="round" stroke-linejoin="round" fill="none"/>
<path transform="translate(825 1367.8)" d="M-4.29 0.71L-3.57 0L-2.14 -0.71L1.43 -0.71L2.86 0L3.57 0.71L4.29 2.14L4.29 3.57L3.57 5.71L-5 14.29L4.29 14.29" stroke="#a90000" stroke-width="1.9" stroke-linecap="round" stroke-linejoin="round" fill="none"/>
<path transform="translate(915 1397.8)" d="M-5 -0.71L4.29 -0.71L-0.71 5L1.43 5L2.86 5.71L3.57 6.43L4.29 7.86L4.29 11.43L3.57 12.86L2.86 13.57L1.43 14.29L-2.86 14.29L-4.29 13.57L-5 12.86" stroke="#a90000" stroke-width="1.9" stroke-linecap="round" stroke-linejoin="round" fill="none"/>
<circle cx="846" cy="1500" r="6" stroke="#800206" stroke-width="1.8" fill="none"/>
<circle cx="894" cy="1470" r="6" stroke="#800206" stroke-width="1.8" fill="none"/>
<circle cx="894" cy="1530" r="6" stroke="#800206" stroke-width="1.8" fill="none"/>
<path d="M852 1497L889.5 1473" stroke="#800206" stroke-width="1.8" stroke-linecap="round" fill="none"/>
<path d="M930 1470L900 1470" stroke="#800206" stroke-width="1.8" stroke-linecap="round" fill="none"/>
<path d="M810 1500L840 1500" stroke="#800206" stroke-width="1.8" stroke-linecap="round" fill="none"/>
<path d="M930 1530L900 1530" stroke="#800206" stroke-width="1.8" stroke-linecap="round" fill="none"/>
<path transform="translate(915 1472.8)" d="M4.29 14.29L-4.29 14.29M0 14.29L0 -0.71L-1.43 1.43L-2.86 2.86L-4.29 3.57" stroke="#a90000" stroke-width="1.9" stroke-linecap="round" stroke-linejoin="round" fill="none"/>
<path transform="translate(825 1502.8)" d="M-4.29 0.71L-3.57 0L-2.14 -0.71L1.43 -0.71L2.86 0L3.57 0.71L4.29 2.14L4.29 3.57L3.57 5.71L-5 14.29L4.29 14.29" stroke="#a90000" stroke-width="1.9" stroke-linecap="round" stroke-linejoin="round" fill="none"/>
<path transform="translate(915 1532.8)" d="M-5 -0.71L4.29 -0.71L-0.71 5L1.43 5L2.86 5.71L3.57 6.43L4.29 7.86L4.29 11.43L3.57 12.86L2.86 13.57L1.43 14.29L-2.86 14.29L-4.29 13.57L-5 12.86" stroke="#a90000" stroke-width="1.9" stroke-linecap="round" stroke-linejoin="round" fill="none"/>
<circle cx="846" cy="1635" r="6" stroke="#800206" stroke-width="1.8" fill="none"/>
<circle cx="894" cy="1605" r="6" stroke="#800206" stroke-width="1.8" fill="none"/>
<circle cx="894" cy="1665" r="6" stroke="#800206" stroke-width="1.8" fill="none"/>
<path d="M852 1632L889.5 1608" stroke="#800206" stroke-width="1.8" stroke-linecap="round" fill="none"/>
<path d="M930 1605L900 1605" stroke="#800206" stroke-width="1.8" stroke-linecap="round" fill="none"/>
<path d="M810 1635L840 1635" stroke="#800206" stroke-width="1.8" stroke-linecap="round" fill="none"/>
<path d="M930 1665L900 1665" stroke="#800206" stroke-width="1.8" stroke-linecap="round" fill="none"/>
<path transform="translate(915 1607.8)" d="M4.29 14.29L-4.29 14.29M0 14.29L0 -0.71L-1.43 1.43L-2.86 2.86L-4.29 3.57" stroke="#a90000" stroke-width="1.9" stroke-linecap="round" stroke-linejoin="round" fill="none"/>
<path transform="translate(825 1637.8)" d="M-4.29 0.71L-3.57 0L-2.14 -0.71L1.43 -0.71L2.86 0L3.57 0.71L4.29 2.14L4.29 3.57L3.57 5.71L-5 14.29L4.29 14.29" stroke="#a90000" stroke-width="1.9" stroke-linecap="round" stroke-linejoin="round" fill="none"/>
<path transform="translate(915 1667.8)" d="M-5 -0.71L4.29 -0.71L-0.71 5L1.43 5L2.86 5.71L3.57 6.43L4.29 7.86L4.29 11.43L3.57 12.86L2.86 13.57L1.43 14.29L-2.86 14.29L-4.29 13.57L-5 12.86" stroke="#a90000" stroke-width="1.9" stroke-linecap="round" stroke-linejoin="round" fill="none"/>
<path d="M1371 1719L1389 1719L1389 1761L1371 1761Z" stroke="#840000" stroke-width="2.4" stroke-linecap="round" stroke-linejoin="miter" fill="none"/>
<path d="M1380 1710L1380 1719" stroke="#800206" stroke-width="1.8" stroke-linecap="round" fill="none"/>
<path d="M1380 1770L1380 1761" stroke="#800206" stroke-width="1.8" stroke-linecap="round" fill="none"/>
<path d="M1371 1809L1389 1809L1389 1851L1371 1851Z" stroke="#840000" stroke-width="2.4" stroke-linecap="round" stroke-linejoin="miter" fill="none"/>
<path d="M1380 1800L1380 1809" stroke="#800206" stroke-width="1.8" stroke-linecap="round" fill="none"/>
<path d="M1380 1860L1380 1851" stroke="#800206" stroke-width="1.8" stroke-linecap="round" fill="none"/>
<path d="M1461 1911L1461 1929L1419 1929L1419 1911Z" stroke="#840000" stroke-width="2.4" stroke-linecap="round" stroke-linejoin="miter" fill="none"/>
<path d="M1470 1920L1461 1920" stroke="#800206" stroke-width="1.8" stroke-linecap="round" fill="none"/>
<path d="M1410 1920L1419 1920" stroke="#800206" stroke-width="1.8" stroke-linecap="round" fill="none"/>
<path d="M1507.5 1777.5L1530 1755" stroke="#800206" stroke-width="1.8" stroke-linecap="round" fill="none"/>
<path d="M1507.5 1792.5L1530 1815" stroke="#800206" stroke-width="1.8" stroke-linecap="round" fill="none"/>
<path d="M1507.5 1762.5L1507.5 1807.5" stroke="#840000" stroke-width="6" stroke-linecap="round" fill="none"/>
<path d="M1515 1806L1521 1800L1527 1812Z" stroke="#840000" stroke-width="1.8" stroke-linecap="round" stroke-linejoin="round" fill="#840000"/>
<circle cx="1515" cy="1785" r="33.3" stroke="#840000" stroke-width="3" fill="none"/>
<path d="M1440 1785L1507.5 1785" stroke="#800206" stroke-width="1.8" stroke-linecap="round" fill="none"/>
<path d="M1530 1725L1530 1755" stroke="#800206" stroke-width="1.8" stroke-linecap="round" fill="none"/>
<path d="M1530 1845L1530 1815" stroke="#800206" stroke-width="1.8" stroke-linecap="round" fill="none"/>
<path transform="translate(1473.75 1787.8)" d="M4.29 14.29L-4.29 14.29M0 14.29L0 -0.71L-1.43 1.43L-2.86 2.86L-4.29 3.57" stroke="#a90000" stroke-width="1.9" stroke-linecap="round" stroke-linejoin="round" fill="none"/>
<path transform="translate(1532.8 1740) rotate(-90)" d="M-4.29 0.71L-3.57 0L-2.14 -0.71L1.43 -0.71L2.86 0L3.57 0.71L4.29 2.14L4.29 3.57L3.57 5.71L-5 14.29L4.29 14.29" stroke="#a90000" stroke-width="1.9" stroke-linecap="round" stroke-linejoin="round" fill="none"/>
<path transform="translate(1532.8 1830) rotate(-90)" d="M-5 -0.71L4.29 -0.71L-0.71 5L1.43 5L2.86 5.71L3.57 6.43L4.29 7.86L4.29 11.43L3.57 12.86L2.86 13.57L1.43 14.29L-2.86 14.29L-4.29 13.57L-5 12.86" stroke="#a90000" stroke-width="1.9" stroke-linecap="round" stroke-linejoin="round" fill="none"/>
<path d="M1137 1905L1137 1935L1131 1935L1131 1905Z" stroke="#840000" stroke-width="3" stroke-linecap="round" stroke-linejoin="round" fill="#840000"/>
<path d="M1155 1920L1137 1920" stroke="#800206" stroke-width="1.8" stroke-linecap="round" fill="none"/>
<path transform="translate(1575 697.3)" d="M-9.64 6.79L-14.64 -0.36M-18.21 6.79L-18.21 -8.21L-12.5 -8.21L-11.07 -7.5L-10.36 -6.79L-9.64 -5.36L-9.64 -3.21L-10.36 -1.79L-11.07 -1.07L-12.5 -0.36L-18.21 -0.36M4.64 6.79L-3.93 6.79M0.36 6.79L0.36 -8.21L-1.07 -6.07L-2.5 -4.64L-3.93 -3.93M9.64 -8.21L19.64 -8.21L13.21 6.79" stroke="#006464" stroke-width="1.9" stroke-linecap="round" stroke-linejoin="round" fill="none"/>
<path transform="translate(1575 720.7)" d="M-19.29 -8.21L-10 -8.21L-15 -2.5L-12.86 -2.5L-11.43 -1.79L-10.71 -1.07L-10 0.36L-10 3.93L-10.71 5.36L-11.43 6.07L-12.86 6.79L-17.14 6.79L-18.57 6.07L-19.29 5.36M-5 -8.21L4.29 -8.21L-0.71 -2.5L1.43 -2.5L2.86 -1.79L3.57 -1.07L4.29 0.36L4.29 3.93L3.57 5.36L2.86 6.07L1.43 6.79L-2.86 6.79L-4.29 6.07L-5 5.36M13.57 -8.21L15 -8.21L16.43 -7.5L17.14 -6.79L17.86 -5.36L18.57 -2.5L18.57 1.07L17.86 3.93L17.14 5.36L16.43 6.07L15 6.79L13.57 6.79L12.14 6.07L11.43 5.36L10.71 3.93L10 1.07L10 -2.5L10.71 -5.36L11.43 -6.79L12.14 -7.5L13.57 -8.21" stroke="#006464" stroke-width="1.9" stroke-linecap="round" stroke-linejoin="round" fill="none"/>
<path transform="translate(1710 705.6)" d="M-18.93 -7.5L-20.36 -8.21L-22.5 -8.21L-24.64 -7.5L-26.07 -6.07L-26.79 -4.64L-27.5 -1.79L-27.5 0.36L-26.79 3.21L-26.07 4.64L-24.64 6.07L-22.5 6.79L-21.07 6.79L-18.93 6.07L-18.21 5.36L-18.21 0.36L-21.07 0.36M-11.79 6.79L-11.79 -8.21L-3.21 6.79L-3.21 -8.21M3.93 6.79L3.93 -8.21L7.5 -8.21L9.64 -7.5L11.07 -6.07L11.79 -4.64L12.5 -1.79L12.5 0.36L11.79 3.21L11.07 4.64L9.64 6.07L7.5 6.79L3.93 6.79M18.93 6.79L18.93 -8.21L22.5 -8.21L24.64 -7.5L26.07 -6.07L26.79 -4.64L27.5 -1.79L27.5 0.36L26.79 3.21L26.07 4.64L24.64 6.07L22.5 6.79L18.93 6.79" stroke="#006464" stroke-width="1.9" stroke-linecap="round" stroke-linejoin="round" fill="none"/>
<path transform="translate(1575.4 781.2)" d="M-9.64 5.36L-10.36 6.07L-12.5 6.79L-13.93 6.79L-16.07 6.07L-17.5 4.64L-18.21 3.21L-18.93 0.36L-18.93 -1.79L-18.21 -4.64L-17.5 -6.07L-16.07 -7.5L-13.93 -8.21L-12.5 -8.21L-10.36 -7.5L-9.64 -6.79M-4.64 -8.21L4.64 -8.21L-0.36 -2.5L1.79 -2.5L3.21 -1.79L3.93 -1.07L4.64 0.36L4.64 3.93L3.93 5.36L3.21 6.07L1.79 6.79L-2.5 6.79L-3.93 6.07L-4.64 5.36M9.64 -8.21L18.93 -8.21L13.93 -2.5L16.07 -2.5L17.5 -1.79L18.21 -1.07L18.93 0.36L18.93 3.93L18.21 5.36L17.5 6.07L16.07 6.79L11.79 6.79L10.36 6.07L9.64 5.36" stroke="#006464" stroke-width="1.9" stroke-linecap="round" stroke-linejoin="round" fill="none"/>
<path transform="translate(1575.3 810.9)" d="M-23.21 6.79L-31.79 6.79M-27.5 6.79L-27.5 -8.21L-28.93 -6.07L-30.36 -4.64L-31.79 -3.93M-13.93 -8.21L-12.5 -8.21L-11.07 -7.5L-10.36 -6.79L-9.64 -5.36L-8.93 -2.5L-8.93 1.07L-9.64 3.93L-10.36 5.36L-11.07 6.07L-12.5 6.79L-13.93 6.79L-15.36 6.07L-16.07 5.36L-16.79 3.93L-17.5 1.07L-17.5 -2.5L-16.79 -5.36L-16.07 -6.79L-15.36 -7.5L-13.93 -8.21M0.36 -8.21L1.79 -8.21L3.21 -7.5L3.93 -6.79L4.64 -5.36L5.36 -2.5L5.36 1.07L4.64 3.93L3.93 5.36L3.21 6.07L1.79 6.79L0.36 6.79L-1.07 6.07L-1.79 5.36L-2.5 3.93L-3.21 1.07L-3.21 -2.5L-2.5 -5.36L-1.79 -6.79L-1.07 -7.5L0.36 -8.21M11.79 -3.21L11.79 11.79M11.79 -2.5L13.21 -3.21L16.07 -3.21L17.5 -2.5L18.21 -1.79L18.93 -0.36L18.93 3.93L18.21 5.36L17.5 6.07L16.07 6.79L13.21 6.79L11.79 6.07M30.36 -1.07L25.36 -1.07M25.36 6.79L25.36 -8.21L32.5 -8.21" stroke="#006464" stroke-width="1.9" stroke-linecap="round" stroke-linejoin="round" fill="none"/>
<path transform="translate(1935 750)" d="M-2.5 6.79L-9.64 6.79L-9.64 -8.21M4.64 -1.79L3.21 -2.5L2.5 -3.21L1.79 -4.64L1.79 -5.36L2.5 -6.79L3.21 -7.5L4.64 -8.21L7.5 -8.21L8.93 -7.5L9.64 -6.79L10.36 -5.36L10.36 -4.64L9.64 -3.21L8.93 -2.5L7.5 -1.79L4.64 -1.79L3.21 -1.07L2.5 -0.36L1.79 1.07L1.79 3.93L2.5 5.36L3.21 6.07L4.64 6.79L7.5 6.79L8.93 6.07L9.64 5.36L10.36 3.93L10.36 1.07L9.64 -0.36L8.93 -1.07L7.5 -1.79" stroke="#006464" stroke-width="1.9" stroke-linecap="round" stroke-linejoin="round" fill="none"/>
<path transform="translate(1935 780)" d="M-25 6.79L-32.14 6.79L-32.14 -8.21M-23.57 8.21L-12.14 8.21M-10.71 -8.21L-2.14 -8.21M-6.43 6.79L-6.43 -8.21M2.86 6.79L2.86 -3.21M2.86 -0.36L3.57 -1.79L4.29 -2.5L5.71 -3.21L7.14 -3.21M12.14 6.79L12.14 -3.21M11.43 -7.5L12.14 -8.21L12.86 -7.5L12.14 -6.79L11.43 -7.5L12.14 -8.21M19.29 6.79L19.29 -3.21M19.29 -1.79L20 -2.5L21.43 -3.21L23.57 -3.21L25 -2.5L25.71 -1.07L25.71 6.79M25.71 -1.07L26.43 -2.5L27.86 -3.21L30 -3.21L31.43 -2.5L32.14 -1.07L32.14 6.79" stroke="#006464" stroke-width="1.9" stroke-linecap="round" stroke-linejoin="round" fill="none"/>
<path transform="translate(1740 885)" d="M13.09 5.36L12.38 6.07L10.24 6.79L8.81 6.79L6.66 6.07L5.24 4.64L4.52 3.21L3.81 0.36L3.81 -1.79L4.52 -4.64L5.24 -6.07L6.66 -7.5L8.81 -8.21L10.24 -8.21L12.38 -7.5L13.09 -6.79M26.66 -8.21L19.52 -8.21L18.81 -1.07L19.52 -1.79L20.95 -2.5L24.52 -2.5L25.95 -1.79L26.66 -1.07L27.38 0.36L27.38 3.93L26.66 5.36L25.95 6.07L24.52 6.79L20.95 6.79L19.52 6.07L18.81 5.36M32.38 -8.21L41.66 -8.21L36.66 -2.5L38.81 -2.5L40.24 -1.79L40.95 -1.07L41.66 0.36L41.66 3.93L40.95 5.36L40.24 6.07L38.81 6.79L34.52 6.79L33.09 6.07L32.38 5.36" stroke="#006464" stroke-width="1.9" stroke-linecap="round" stroke-linejoin="round" fill="none"/>
<path transform="translate(1740 915)" d="M6.66 -1.79L5.24 -2.5L4.52 -3.21L3.81 -4.64L3.81 -5.36L4.52 -6.79L5.24 -7.5L6.66 -8.21L9.52 -8.21L10.95 -7.5L11.66 -6.79L12.38 -5.36L12.38 -4.64L11.66 -3.21L10.95 -2.5L9.52 -1.79L6.66 -1.79L5.24 -1.07L4.52 -0.36L3.81 1.07L3.81 3.93L4.52 5.36L5.24 6.07L6.66 6.79L9.52 6.79L10.95 6.07L11.66 5.36L12.38 3.93L12.38 1.07L11.66 -0.36L10.95 -1.07L9.52 -1.79M18.09 -6.79L18.81 -7.5L20.24 -8.21L23.81 -8.21L25.24 -7.5L25.95 -6.79L26.66 -5.36L26.66 -3.93L25.95 -1.79L17.38 6.79L26.66 6.79M35.95 -8.21L37.38 -8.21L38.81 -7.5L39.52 -6.79L40.24 -5.36L40.95 -2.5L40.95 1.07L40.24 3.93L39.52 5.36L38.81 6.07L37.38 6.79L35.95 6.79L34.52 6.07L33.81 5.36L33.09 3.93L32.38 1.07L32.38 -2.5L33.09 -5.36L33.81 -6.79L34.52 -7.5L35.95 -8.21M47.38 -3.21L47.38 11.79M47.38 -2.5L48.81 -3.21L51.66 -3.21L53.09 -2.5L53.81 -1.79L54.52 -0.36L54.52 3.93L53.81 5.36L53.09 6.07L51.66 6.79L48.81 6.79L47.38 6.07M65.95 -1.07L60.95 -1.07M60.95 6.79L60.95 -8.21L68.09 -8.21" stroke="#006464" stroke-width="1.9" stroke-linecap="round" stroke-linejoin="round" fill="none"/>
<path transform="translate(1575 997.4) rotate(-90)" d="M-9.64 6.79L-14.64 -0.36M-18.21 6.79L-18.21 -8.21L-12.5 -8.21L-11.07 -7.5L-10.36 -6.79L-9.64 -5.36L-9.64 -3.21L-10.36 -1.79L-11.07 -1.07L-12.5 -0.36L-18.21 -0.36M3.93 -8.21L-3.21 -8.21L-3.93 -1.07L-3.21 -1.79L-1.79 -2.5L1.79 -2.5L3.21 -1.79L3.93 -1.07L4.64 0.36L4.64 3.93L3.93 5.36L3.21 6.07L1.79 6.79L-1.79 6.79L-3.21 6.07L-3.93 5.36M17.5 -8.21L14.64 -8.21L13.21 -7.5L12.5 -6.79L11.07 -4.64L10.36 -1.79L10.36 3.93L11.07 5.36L11.79 6.07L13.21 6.79L16.07 6.79L17.5 6.07L18.21 5.36L18.93 3.93L18.93 0.36L18.21 -1.07L17.5 -1.79L16.07 -2.5L13.21 -2.5L11.79 -1.79L11.07 -1.07L10.36 0.36" stroke="#006464" stroke-width="1.9" stroke-linecap="round" stroke-linejoin="round" fill="none"/>
<path transform="translate(1605 998.6) rotate(-90)" d="M-8.93 6.79L-17.5 6.79M-13.21 6.79L-13.21 -8.21L-14.64 -6.07L-16.07 -4.64L-17.5 -3.93M-2.5 6.79L-2.5 -8.21M-1.07 1.07L3.21 6.79M3.21 -3.21L-2.5 2.5M11.79 -1.79L10.36 -2.5L9.64 -3.21L8.93 -4.64L8.93 -5.36L9.64 -6.79L10.36 -7.5L11.79 -8.21L14.64 -8.21L16.07 -7.5L16.79 -6.79L17.5 -5.36L17.5 -4.64L16.79 -3.21L16.07 -2.5L14.64 -1.79L11.79 -1.79L10.36 -1.07L9.64 -0.36L8.93 1.07L8.93 3.93L9.64 5.36L10.36 6.07L11.79 6.79L14.64 6.79L16.07 6.07L16.79 5.36L17.5 3.93L17.5 1.07L16.79 -0.36L16.07 -1.07L14.64 -1.79" stroke="#006464" stroke-width="1.9" stroke-linecap="round" stroke-linejoin="round" fill="none"/>
<path transform="translate(1650 975.4)" d="M-9.64 5.36L-10.36 6.07L-12.5 6.79L-13.93 6.79L-16.07 6.07L-17.5 4.64L-18.21 3.21L-18.93 0.36L-18.93 -1.79L-18.21 -4.64L-17.5 -6.07L-16.07 -7.5L-13.93 -8.21L-12.5 -8.21L-10.36 -7.5L-9.64 -6.79M3.93 -8.21L-3.21 -8.21L-3.93 -1.07L-3.21 -1.79L-1.79 -2.5L1.79 -2.5L3.21 -1.79L3.93 -1.07L4.64 0.36L4.64 3.93L3.93 5.36L3.21 6.07L1.79 6.79L-1.79 6.79L-3.21 6.07L-3.93 5.36M10.36 -6.79L11.07 -7.5L12.5 -8.21L16.07 -8.21L17.5 -7.5L18.21 -6.79L18.93 -5.36L18.93 -3.93L18.21 -1.79L9.64 6.79L18.93 6.79" stroke="#006464" stroke-width="1.9" stroke-linecap="round" stroke-linejoin="round" fill="none"/>
<path transform="translate(1650 1005.4)" d="M-17.5 -3.21L-17.5 6.79M-21.07 -8.93L-24.64 1.79L-15.36 1.79M-11.07 -8.21L-1.07 -8.21L-7.5 6.79M4.64 -3.21L4.64 11.79M4.64 -2.5L6.07 -3.21L8.93 -3.21L10.36 -2.5L11.07 -1.79L11.79 -0.36L11.79 3.93L11.07 5.36L10.36 6.07L8.93 6.79L6.07 6.79L4.64 6.07M23.21 -1.07L18.21 -1.07M18.21 6.79L18.21 -8.21L25.36 -8.21" stroke="#006464" stroke-width="1.9" stroke-linecap="round" stroke-linejoin="round" fill="none"/>
<path transform="translate(1890 1095)" d="M-1.43 8.21L-2.86 7.5L-4.29 6.07L-6.43 3.93L-7.86 3.21L-9.29 3.21M-8.57 6.79L-10 6.07L-11.43 4.64L-12.14 1.79L-12.14 -3.21L-11.43 -6.07L-10 -7.5L-8.57 -8.21L-5.71 -8.21L-4.29 -7.5L-2.86 -6.07L-2.14 -3.21L-2.14 1.79L-2.86 4.64L-4.29 6.07L-5.71 6.79L-8.57 6.79M10.71 -3.21L10.71 6.79M7.14 -8.93L3.57 1.79L12.86 1.79" stroke="#006464" stroke-width="1.9" stroke-linecap="round" stroke-linejoin="round" fill="none"/>
<path transform="translate(1890 1125)" d="M-40.71 -6.79L-40 -7.5L-38.57 -8.21L-35 -8.21L-33.57 -7.5L-32.86 -6.79L-32.14 -5.36L-32.14 -3.93L-32.86 -1.79L-41.43 6.79L-32.14 6.79M-25.71 6.79L-25.71 -8.21L-17.14 6.79L-17.14 -8.21M-11.43 -8.21L-2.14 -8.21L-7.14 -2.5L-5 -2.5L-3.57 -1.79L-2.86 -1.07L-2.14 0.36L-2.14 3.93L-2.86 5.36L-3.57 6.07L-5 6.79L-9.29 6.79L-10.71 6.07L-11.43 5.36M5 6.79L7.86 6.79L9.29 6.07L10 5.36L11.43 3.21L12.14 0.36L12.14 -5.36L11.43 -6.79L10.71 -7.5L9.29 -8.21L6.43 -8.21L5 -7.5L4.29 -6.79L3.57 -5.36L3.57 -1.79L4.29 -0.36L5 0.36L6.43 1.07L9.29 1.07L10.71 0.36L11.43 -0.36L12.14 -1.79M21.43 -8.21L22.86 -8.21L24.29 -7.5L25 -6.79L25.71 -5.36L26.43 -2.5L26.43 1.07L25.71 3.93L25 5.36L24.29 6.07L22.86 6.79L21.43 6.79L20 6.07L19.29 5.36L18.57 3.93L17.86 1.07L17.86 -2.5L18.57 -5.36L19.29 -6.79L20 -7.5L21.43 -8.21M39.29 -3.21L39.29 6.79M35.71 -8.93L32.14 1.79L41.43 1.79" stroke="#006464" stroke-width="1.9" stroke-linecap="round" stroke-linejoin="round" fill="none"/>
<path transform="translate(1890 1155)" d="M-9.64 5.36L-10.36 6.07L-12.5 6.79L-13.93 6.79L-16.07 6.07L-17.5 4.64L-18.21 3.21L-18.93 0.36L-18.93 -1.79L-18.21 -4.64L-17.5 -6.07L-16.07 -7.5L-13.93 -8.21L-12.5 -8.21L-10.36 -7.5L-9.64 -6.79M3.93 -8.21L-3.21 -8.21L-3.93 -1.07L-3.21 -1.79L-1.79 -2.5L1.79 -2.5L3.21 -1.79L3.93 -1.07L4.64 0.36L4.64 3.93L3.93 5.36L3.21 6.07L1.79 6.79L-1.79 6.79L-3.21 6.07L-3.93 5.36M17.5 -3.21L17.5 6.79M13.93 -8.93L10.36 1.79L19.64 1.79" stroke="#006464" stroke-width="1.9" stroke-linecap="round" stroke-linejoin="round" fill="none"/>
<path transform="translate(1890 1185)" d="M-28.93 -1.79L-30.36 -2.5L-31.07 -3.21L-31.79 -4.64L-31.79 -5.36L-31.07 -6.79L-30.36 -7.5L-28.93 -8.21L-26.07 -8.21L-24.64 -7.5L-23.93 -6.79L-23.21 -5.36L-23.21 -4.64L-23.93 -3.21L-24.64 -2.5L-26.07 -1.79L-28.93 -1.79L-30.36 -1.07L-31.07 -0.36L-31.79 1.07L-31.79 3.93L-31.07 5.36L-30.36 6.07L-28.93 6.79L-26.07 6.79L-24.64 6.07L-23.93 5.36L-23.21 3.93L-23.21 1.07L-23.93 -0.36L-24.64 -1.07L-26.07 -1.79M-17.5 -6.79L-16.79 -7.5L-15.36 -8.21L-11.79 -8.21L-10.36 -7.5L-9.64 -6.79L-8.93 -5.36L-8.93 -3.93L-9.64 -1.79L-18.21 6.79L-8.93 6.79M0.36 -8.21L1.79 -8.21L3.21 -7.5L3.93 -6.79L4.64 -5.36L5.36 -2.5L5.36 1.07L4.64 3.93L3.93 5.36L3.21 6.07L1.79 6.79L0.36 6.79L-1.07 6.07L-1.79 5.36L-2.5 3.93L-3.21 1.07L-3.21 -2.5L-2.5 -5.36L-1.79 -6.79L-1.07 -7.5L0.36 -8.21M11.79 -3.21L11.79 11.79M11.79 -2.5L13.21 -3.21L16.07 -3.21L17.5 -2.5L18.21 -1.79L18.93 -0.36L18.93 3.93L18.21 5.36L17.5 6.07L16.07 6.79L13.21 6.79L11.79 6.07M30.36 -1.07L25.36 -1.07M25.36 6.79L25.36 -8.21L32.5 -8.21" stroke="#006464" stroke-width="1.9" stroke-linecap="round" stroke-linejoin="round" fill="none"/>
<path transform="translate(1470 1155)" d="M-9.64 5.36L-10.36 6.07L-12.5 6.79L-13.93 6.79L-16.07 6.07L-17.5 4.64L-18.21 3.21L-18.93 0.36L-18.93 -1.79L-18.21 -4.64L-17.5 -6.07L-16.07 -7.5L-13.93 -8.21L-12.5 -8.21L-10.36 -7.5L-9.64 -6.79M3.21 -3.21L3.21 6.79M-0.36 -8.93L-3.93 1.79L5.36 1.79M11.79 6.79L14.64 6.79L16.07 6.07L16.79 5.36L18.21 3.21L18.93 0.36L18.93 -5.36L18.21 -6.79L17.5 -7.5L16.07 -8.21L13.21 -8.21L11.79 -7.5L11.07 -6.79L10.36 -5.36L10.36 -1.79L11.07 -0.36L11.79 0.36L13.21 1.07L16.07 1.07L17.5 0.36L18.21 -0.36L18.93 -1.79" stroke="#006464" stroke-width="1.9" stroke-linecap="round" stroke-linejoin="round" fill="none"/>
<path transform="translate(1470 1185)" d="M-11.43 -8.21L-10 -8.21L-8.57 -7.5L-7.86 -6.79L-7.14 -5.36L-6.43 -2.5L-6.43 1.07L-7.14 3.93L-7.86 5.36L-8.57 6.07L-10 6.79L-11.43 6.79L-12.86 6.07L-13.57 5.36L-14.29 3.93L-15 1.07L-15 -2.5L-14.29 -5.36L-13.57 -6.79L-12.86 -7.5L-11.43 -8.21M0 5.36L0.71 6.07L0 6.79L-0.71 6.07L0 5.36L0 6.79M15 6.79L6.43 6.79M10.71 6.79L10.71 -8.21L9.29 -6.07L7.86 -4.64L6.43 -3.93" stroke="#006464" stroke-width="1.9" stroke-linecap="round" stroke-linejoin="round" fill="none"/>
<path transform="translate(1530 1176.3)" d="M-9.64 6.79L-14.64 -0.36M-18.21 6.79L-18.21 -8.21L-12.5 -8.21L-11.07 -7.5L-10.36 -6.79L-9.64 -5.36L-9.64 -3.21L-10.36 -1.79L-11.07 -1.07L-12.5 -0.36L-18.21 -0.36M3.21 -3.21L3.21 6.79M-0.36 -8.93L-3.93 1.79L5.36 1.79M13.21 -1.79L11.79 -2.5L11.07 -3.21L10.36 -4.64L10.36 -5.36L11.07 -6.79L11.79 -7.5L13.21 -8.21L16.07 -8.21L17.5 -7.5L18.21 -6.79L18.93 -5.36L18.93 -4.64L18.21 -3.21L17.5 -2.5L16.07 -1.79L13.21 -1.79L11.79 -1.07L11.07 -0.36L10.36 1.07L10.36 3.93L11.07 5.36L11.79 6.07L13.21 6.79L16.07 6.79L17.5 6.07L18.21 5.36L18.93 3.93L18.93 1.07L18.21 -0.36L17.5 -1.07L16.07 -1.79" stroke="#006464" stroke-width="1.9" stroke-linecap="round" stroke-linejoin="round" fill="none"/>
<path transform="translate(1530 1200.1)" d="M-8.93 6.79L-17.5 6.79M-13.21 6.79L-13.21 -8.21L-14.64 -6.07L-16.07 -4.64L-17.5 -3.93M-0.36 -1.79L-1.79 -2.5L-2.5 -3.21L-3.21 -4.64L-3.21 -5.36L-2.5 -6.79L-1.79 -7.5L-0.36 -8.21L2.5 -8.21L3.93 -7.5L4.64 -6.79L5.36 -5.36L5.36 -4.64L4.64 -3.21L3.93 -2.5L2.5 -1.79L-0.36 -1.79L-1.79 -1.07L-2.5 -0.36L-3.21 1.07L-3.21 3.93L-2.5 5.36L-1.79 6.07L-0.36 6.79L2.5 6.79L3.93 6.07L4.64 5.36L5.36 3.93L5.36 1.07L4.64 -0.36L3.93 -1.07L2.5 -1.79M11.79 6.79L11.79 -8.21M13.21 1.07L17.5 6.79M17.5 -3.21L11.79 2.5" stroke="#006464" stroke-width="1.9" stroke-linecap="round" stroke-linejoin="round" fill="none"/>
<path transform="translate(1739.6 1275)" d="M13.09 6.79L8.09 -0.36M4.52 6.79L4.52 -8.21L10.24 -8.21L11.66 -7.5L12.38 -6.79L13.09 -5.36L13.09 -3.21L12.38 -1.79L11.66 -1.07L10.24 -0.36L4.52 -0.36M25.95 -3.21L25.95 6.79M22.38 -8.93L18.81 1.79L28.09 1.79M32.38 -8.21L41.66 -8.21L36.66 -2.5L38.81 -2.5L40.24 -1.79L40.95 -1.07L41.66 0.36L41.66 3.93L40.95 5.36L40.24 6.07L38.81 6.79L34.52 6.79L33.09 6.07L32.38 5.36" stroke="#006464" stroke-width="1.9" stroke-linecap="round" stroke-linejoin="round" fill="none"/>
<path transform="translate(1739.6 1305)" d="M5.24 6.79L8.09 6.79L9.52 6.07L10.24 5.36L11.66 3.21L12.38 0.36L12.38 -5.36L11.66 -6.79L10.95 -7.5L9.52 -8.21L6.66 -8.21L5.24 -7.5L4.52 -6.79L3.81 -5.36L3.81 -1.79L4.52 -0.36L5.24 0.36L6.66 1.07L9.52 1.07L10.95 0.36L11.66 -0.36L12.38 -1.79M18.81 6.79L18.81 -8.21M20.24 1.07L24.52 6.79M24.52 -3.21L18.81 2.5M38.81 6.79L30.24 6.79M34.52 6.79L34.52 -8.21L33.09 -6.07L31.66 -4.64L30.24 -3.93" stroke="#006464" stroke-width="1.9" stroke-linecap="round" stroke-linejoin="round" fill="none"/>
<path transform="translate(1725 1410)" d="M-18.93 -7.5L-20.36 -8.21L-22.5 -8.21L-24.64 -7.5L-26.07 -6.07L-26.79 -4.64L-27.5 -1.79L-27.5 0.36L-26.79 3.21L-26.07 4.64L-24.64 6.07L-22.5 6.79L-21.07 6.79L-18.93 6.07L-18.21 5.36L-18.21 0.36L-21.07 0.36M-11.79 6.79L-11.79 -8.21L-3.21 6.79L-3.21 -8.21M3.93 6.79L3.93 -8.21L7.5 -8.21L9.64 -7.5L11.07 -6.07L11.79 -4.64L12.5 -1.79L12.5 0.36L11.79 3.21L11.07 4.64L9.64 6.07L7.5 6.79L3.93 6.79M18.93 6.79L18.93 -8.21L22.5 -8.21L24.64 -7.5L26.07 -6.07L26.79 -4.64L27.5 -1.79L27.5 0.36L26.79 3.21L26.07 4.64L24.64 6.07L22.5 6.79L18.93 6.79" stroke="#006464" stroke-width="1.9" stroke-linecap="round" stroke-linejoin="round" fill="none"/>
<path transform="translate(870 1275)" d="M-34.29 6.07L-32.14 6.79L-28.57 6.79L-27.14 6.07L-26.43 5.36L-25.71 3.93L-25.71 2.5L-26.43 1.07L-27.14 0.36L-28.57 -0.36L-31.43 -1.07L-32.86 -1.79L-33.57 -2.5L-34.29 -3.93L-34.29 -5.36L-33.57 -6.79L-32.86 -7.5L-31.43 -8.21L-27.86 -8.21L-25.71 -7.5M-20.71 -8.21L-17.14 6.79L-14.29 -3.93L-11.43 6.79L-7.86 -8.21M-2.86 -6.79L-2.14 -7.5L-0.71 -8.21L2.86 -8.21L4.29 -7.5L5 -6.79L5.71 -5.36L5.71 -3.93L5 -1.79L-3.57 6.79L5.71 6.79M15 -8.21L16.43 -8.21L17.86 -7.5L18.57 -6.79L19.29 -5.36L20 -2.5L20 1.07L19.29 3.93L18.57 5.36L17.86 6.07L16.43 6.79L15 6.79L13.57 6.07L12.86 5.36L12.14 3.93L11.43 1.07L11.43 -2.5L12.14 -5.36L12.86 -6.79L13.57 -7.5L15 -8.21M29.29 -8.21L30.71 -8.21L32.14 -7.5L32.86 -6.79L33.57 -5.36L34.29 -2.5L34.29 1.07L33.57 3.93L32.86 5.36L32.14 6.07L30.71 6.79L29.29 6.79L27.86 6.07L27.14 5.36L26.43 3.93L25.71 1.07L25.71 -2.5L26.43 -5.36L27.14 -6.79L27.86 -7.5L29.29 -8.21" stroke="#006464" stroke-width="1.9" stroke-linecap="round" stroke-linejoin="round" fill="none"/>
<path transform="translate(870 1305)" d="M-46.43 6.07L-44.29 6.79L-40.71 6.79L-39.29 6.07L-38.57 5.36L-37.86 3.93L-37.86 2.5L-38.57 1.07L-39.29 0.36L-40.71 -0.36L-43.57 -1.07L-45 -1.79L-45.71 -2.5L-46.43 -3.93L-46.43 -5.36L-45.71 -6.79L-45 -7.5L-43.57 -8.21L-40 -8.21L-37.86 -7.5M-32.86 -8.21L-29.29 6.79L-26.43 -3.93L-23.57 6.79L-20 -8.21M-17.86 8.21L-6.43 8.21M-3.57 6.07L-1.43 6.79L2.14 6.79L3.57 6.07L4.29 5.36L5 3.93L5 2.5L4.29 1.07L3.57 0.36L2.14 -0.36L-0.71 -1.07L-2.14 -1.79L-2.86 -2.5L-3.57 -3.93L-3.57 -5.36L-2.86 -6.79L-2.14 -7.5L-0.71 -8.21L2.86 -8.21L5 -7.5M11.43 6.79L11.43 -8.21L17.14 -8.21L18.57 -7.5L19.29 -6.79L20 -5.36L20 -3.21L19.29 -1.79L18.57 -1.07L17.14 -0.36L11.43 -0.36M26.43 6.79L26.43 -8.21L30 -8.21L32.14 -7.5L33.57 -6.07L34.29 -4.64L35 -1.79L35 0.36L34.29 3.21L33.57 4.64L32.14 6.07L30 6.79L26.43 6.79M39.29 -8.21L47.86 -8.21M43.57 6.79L43.57 -8.21" stroke="#006464" stroke-width="1.9" stroke-linecap="round" stroke-linejoin="round" fill="none"/>
<path transform="translate(870 1410)" d="M-34.29 6.07L-32.14 6.79L-28.57 6.79L-27.14 6.07L-26.43 5.36L-25.71 3.93L-25.71 2.5L-26.43 1.07L-27.14 0.36L-28.57 -0.36L-31.43 -1.07L-32.86 -1.79L-33.57 -2.5L-34.29 -3.93L-34.29 -5.36L-33.57 -6.79L-32.86 -7.5L-31.43 -8.21L-27.86 -8.21L-25.71 -7.5M-20.71 -8.21L-17.14 6.79L-14.29 -3.93L-11.43 6.79L-7.86 -8.21M-2.86 -6.79L-2.14 -7.5L-0.71 -8.21L2.86 -8.21L4.29 -7.5L5 -6.79L5.71 -5.36L5.71 -3.93L5 -1.79L-3.57 6.79L5.71 6.79M15 -8.21L16.43 -8.21L17.86 -7.5L18.57 -6.79L19.29 -5.36L20 -2.5L20 1.07L19.29 3.93L18.57 5.36L17.86 6.07L16.43 6.79L15 6.79L13.57 6.07L12.86 5.36L12.14 3.93L11.43 1.07L11.43 -2.5L12.14 -5.36L12.86 -6.79L13.57 -7.5L15 -8.21M34.29 6.79L25.71 6.79M30 6.79L30 -8.21L28.57 -6.07L27.14 -4.64L25.71 -3.93" stroke="#006464" stroke-width="1.9" stroke-linecap="round" stroke-linejoin="round" fill="none"/>
<path transform="translate(870 1440)" d="M-46.43 6.07L-44.29 6.79L-40.71 6.79L-39.29 6.07L-38.57 5.36L-37.86 3.93L-37.86 2.5L-38.57 1.07L-39.29 0.36L-40.71 -0.36L-43.57 -1.07L-45 -1.79L-45.71 -2.5L-46.43 -3.93L-46.43 -5.36L-45.71 -6.79L-45 -7.5L-43.57 -8.21L-40 -8.21L-37.86 -7.5M-32.86 -8.21L-29.29 6.79L-26.43 -3.93L-23.57 6.79L-20 -8.21M-17.86 8.21L-6.43 8.21M-3.57 6.07L-1.43 6.79L2.14 6.79L3.57 6.07L4.29 5.36L5 3.93L5 2.5L4.29 1.07L3.57 0.36L2.14 -0.36L-0.71 -1.07L-2.14 -1.79L-2.86 -2.5L-3.57 -3.93L-3.57 -5.36L-2.86 -6.79L-2.14 -7.5L-0.71 -8.21L2.86 -8.21L5 -7.5M11.43 6.79L11.43 -8.21L17.14 -8.21L18.57 -7.5L19.29 -6.79L20 -5.36L20 -3.21L19.29 -1.79L18.57 -1.07L17.14 -0.36L11.43 -0.36M26.43 6.79L26.43 -8.21L30 -8.21L32.14 -7.5L33.57 -6.07L34.29 -4.64L35 -1.79L35 0.36L34.29 3.21L33.57 4.64L32.14 6.07L30 6.79L26.43 6.79M39.29 -8.21L47.86 -8.21M43.57 6.79L43.57 -8.21" stroke="#006464" stroke-width="1.9" stroke-linecap="round" stroke-linejoin="round" fill="none"/>
<path transform="translate(870 1545)" d="M-34.29 6.07L-32.14 6.79L-28.57 6.79L-27.14 6.07L-26.43 5.36L-25.71 3.93L-25.71 2.5L-26.43 1.07L-27.14 0.36L-28.57 -0.36L-31.43 -1.07L-32.86 -1.79L-33.57 -2.5L-34.29 -3.93L-34.29 -5.36L-33.57 -6.79L-32.86 -7.5L-31.43 -8.21L-27.86 -8.21L-25.71 -7.5M-20.71 -8.21L-17.14 6.79L-14.29 -3.93L-11.43 6.79L-7.86 -8.21M-2.86 -6.79L-2.14 -7.5L-0.71 -8.21L2.86 -8.21L4.29 -7.5L5 -6.79L5.71 -5.36L5.71 -3.93L5 -1.79L-3.57 6.79L5.71 6.79M15 -8.21L16.43 -8.21L17.86 -7.5L18.57 -6.79L19.29 -5.36L20 -2.5L20 1.07L19.29 3.93L18.57 5.36L17.86 6.07L16.43 6.79L15 6.79L13.57 6.07L12.86 5.36L12.14 3.93L11.43 1.07L11.43 -2.5L12.14 -5.36L12.86 -6.79L13.57 -7.5L15 -8.21M25.71 -6.79L26.43 -7.5L27.86 -8.21L31.43 -8.21L32.86 -7.5L33.57 -6.79L34.29 -5.36L34.29 -3.93L33.57 -1.79L25 6.79L34.29 6.79" stroke="#006464" stroke-width="1.9" stroke-linecap="round" stroke-linejoin="round" fill="none"/>
<path transform="translate(870 1575)" d="M-46.43 6.07L-44.29 6.79L-40.71 6.79L-39.29 6.07L-38.57 5.36L-37.86 3.93L-37.86 2.5L-38.57 1.07L-39.29 0.36L-40.71 -0.36L-43.57 -1.07L-45 -1.79L-45.71 -2.5L-46.43 -3.93L-46.43 -5.36L-45.71 -6.79L-45 -7.5L-43.57 -8.21L-40 -8.21L-37.86 -7.5M-32.86 -8.21L-29.29 6.79L-26.43 -3.93L-23.57 6.79L-20 -8.21M-17.86 8.21L-6.43 8.21M-3.57 6.07L-1.43 6.79L2.14 6.79L3.57 6.07L4.29 5.36L5 3.93L5 2.5L4.29 1.07L3.57 0.36L2.14 -0.36L-0.71 -1.07L-2.14 -1.79L-2.86 -2.5L-3.57 -3.93L-3.57 -5.36L-2.86 -6.79L-2.14 -7.5L-0.71 -8.21L2.86 -8.21L5 -7.5M11.43 6.79L11.43 -8.21L17.14 -8.21L18.57 -7.5L19.29 -6.79L20 -5.36L20 -3.21L19.29 -1.79L18.57 -1.07L17.14 -0.36L11.43 -0.36M26.43 6.79L26.43 -8.21L30 -8.21L32.14 -7.5L33.57 -6.07L34.29 -4.64L35 -1.79L35 0.36L34.29 3.21L33.57 4.64L32.14 6.07L30 6.79L26.43 6.79M39.29 -8.21L47.86 -8.21M43.57 6.79L43.57 -8.21" stroke="#006464" stroke-width="1.9" stroke-linecap="round" stroke-linejoin="round" fill="none"/>
<path transform="translate(1409.6 1725)" d="M13.09 6.79L8.09 -0.36M4.52 6.79L4.52 -8.21L10.24 -8.21L11.66 -7.5L12.38 -6.79L13.09 -5.36L13.09 -3.21L12.38 -1.79L11.66 -1.07L10.24 -0.36L4.52 -0.36M27.38 6.79L18.81 6.79M23.09 6.79L23.09 -8.21L21.66 -6.07L20.24 -4.64L18.81 -3.93M36.66 -8.21L38.09 -8.21L39.52 -7.5L40.24 -6.79L40.95 -5.36L41.66 -2.5L41.66 1.07L40.95 3.93L40.24 5.36L39.52 6.07L38.09 6.79L36.66 6.79L35.24 6.07L34.52 5.36L33.81 3.93L33.09 1.07L33.09 -2.5L33.81 -5.36L34.52 -6.79L35.24 -7.5L36.66 -8.21M50.95 -8.21L52.38 -8.21L53.81 -7.5L54.52 -6.79L55.24 -5.36L55.95 -2.5L55.95 1.07L55.24 3.93L54.52 5.36L53.81 6.07L52.38 6.79L50.95 6.79L49.52 6.07L48.81 5.36L48.09 3.93L47.38 1.07L47.38 -2.5L48.09 -5.36L48.81 -6.79L49.52 -7.5L50.95 -8.21" stroke="#006464" stroke-width="1.9" stroke-linecap="round" stroke-linejoin="round" fill="none"/>
<path transform="translate(1409.6 1755)" d="M3.81 -6.79L4.52 -7.5L5.95 -8.21L9.52 -8.21L10.95 -7.5L11.66 -6.79L12.38 -5.36L12.38 -3.93L11.66 -1.79L3.09 6.79L12.38 6.79M18.81 6.79L18.81 -8.21M20.24 1.07L24.52 6.79M24.52 -3.21L18.81 2.5M30.24 -6.79L30.95 -7.5L32.38 -8.21L35.95 -8.21L37.38 -7.5L38.09 -6.79L38.81 -5.36L38.81 -3.93L38.09 -1.79L29.52 6.79L38.81 6.79" stroke="#006464" stroke-width="1.9" stroke-linecap="round" stroke-linejoin="round" fill="none"/>
<path transform="translate(1409.6 1815)" d="M13.09 6.79L8.09 -0.36M4.52 6.79L4.52 -8.21L10.24 -8.21L11.66 -7.5L12.38 -6.79L13.09 -5.36L13.09 -3.21L12.38 -1.79L11.66 -1.07L10.24 -0.36L4.52 -0.36M27.38 6.79L18.81 6.79M23.09 6.79L23.09 -8.21L21.66 -6.07L20.24 -4.64L18.81 -3.93M36.66 -8.21L38.09 -8.21L39.52 -7.5L40.24 -6.79L40.95 -5.36L41.66 -2.5L41.66 1.07L40.95 3.93L40.24 5.36L39.52 6.07L38.09 6.79L36.66 6.79L35.24 6.07L34.52 5.36L33.81 3.93L33.09 1.07L33.09 -2.5L33.81 -5.36L34.52 -6.79L35.24 -7.5L36.66 -8.21M55.95 6.79L47.38 6.79M51.66 6.79L51.66 -8.21L50.24 -6.07L48.81 -4.64L47.38 -3.93" stroke="#006464" stroke-width="1.9" stroke-linecap="round" stroke-linejoin="round" fill="none"/>
<path transform="translate(1409.6 1845)" d="M3.09 -8.21L12.38 -8.21L7.38 -2.5L9.52 -2.5L10.95 -1.79L11.66 -1.07L12.38 0.36L12.38 3.93L11.66 5.36L10.95 6.07L9.52 6.79L5.24 6.79L3.81 6.07L3.09 5.36M18.81 6.79L18.81 -8.21M20.24 1.07L24.52 6.79M24.52 -3.21L18.81 2.5M29.52 -8.21L38.81 -8.21L33.81 -2.5L35.95 -2.5L37.38 -1.79L38.09 -1.07L38.81 0.36L38.81 3.93L38.09 5.36L37.38 6.07L35.95 6.79L31.66 6.79L30.24 6.07L29.52 5.36" stroke="#006464" stroke-width="1.9" stroke-linecap="round" stroke-linejoin="round" fill="none"/>
<path transform="translate(1440 1867)" d="M-16.79 6.79L-21.79 -0.36M-25.36 6.79L-25.36 -8.21L-19.64 -8.21L-18.21 -7.5L-17.5 -6.79L-16.79 -5.36L-16.79 -3.21L-17.5 -1.79L-18.21 -1.07L-19.64 -0.36L-25.36 -0.36M-2.5 6.79L-11.07 6.79M-6.79 6.79L-6.79 -8.21L-8.21 -6.07L-9.64 -4.64L-11.07 -3.93M6.79 -8.21L8.21 -8.21L9.64 -7.5L10.36 -6.79L11.07 -5.36L11.79 -2.5L11.79 1.07L11.07 3.93L10.36 5.36L9.64 6.07L8.21 6.79L6.79 6.79L5.36 6.07L4.64 5.36L3.93 3.93L3.21 1.07L3.21 -2.5L3.93 -5.36L4.64 -6.79L5.36 -7.5L6.79 -8.21M17.5 -6.79L18.21 -7.5L19.64 -8.21L23.21 -8.21L24.64 -7.5L25.36 -6.79L26.07 -5.36L26.07 -3.93L25.36 -1.79L16.79 6.79L26.07 6.79" stroke="#006464" stroke-width="1.9" stroke-linecap="round" stroke-linejoin="round" fill="none"/>
<path transform="translate(1440 1891)" d="M-12.14 -8.21L-2.14 -8.21L-8.57 6.79M10.71 -8.21L3.57 -8.21L2.86 -1.07L3.57 -1.79L5 -2.5L8.57 -2.5L10 -1.79L10.71 -1.07L11.43 0.36L11.43 3.93L10.71 5.36L10 6.07L8.57 6.79L5 6.79L3.57 6.07L2.86 5.36" stroke="#006464" stroke-width="1.9" stroke-linecap="round" stroke-linejoin="round" fill="none"/>
<path transform="translate(1559.6 1770)" d="M14.52 8.21L13.09 7.5L11.66 6.07L9.52 3.93L8.09 3.21L6.66 3.21M7.38 6.79L5.95 6.07L4.52 4.64L3.81 1.79L3.81 -3.21L4.52 -6.07L5.95 -7.5L7.38 -8.21L10.24 -8.21L11.66 -7.5L13.09 -6.07L13.81 -3.21L13.81 1.79L13.09 4.64L11.66 6.07L10.24 6.79L7.38 6.79M28.09 6.79L19.52 6.79M23.81 6.79L23.81 -8.21L22.38 -6.07L20.95 -4.64L19.52 -3.93M37.38 -8.21L38.81 -8.21L40.24 -7.5L40.95 -6.79L41.66 -5.36L42.38 -2.5L42.38 1.07L41.66 3.93L40.95 5.36L40.24 6.07L38.81 6.79L37.38 6.79L35.95 6.07L35.24 5.36L34.52 3.93L33.81 1.07L33.81 -2.5L34.52 -5.36L35.24 -6.79L35.95 -7.5L37.38 -8.21M51.66 -8.21L53.09 -8.21L54.52 -7.5L55.24 -6.79L55.95 -5.36L56.66 -2.5L56.66 1.07L55.95 3.93L55.24 5.36L54.52 6.07L53.09 6.79L51.66 6.79L50.24 6.07L49.52 5.36L48.81 3.93L48.09 1.07L48.09 -2.5L48.81 -5.36L49.52 -6.79L50.24 -7.5L51.66 -8.21" stroke="#006464" stroke-width="1.9" stroke-linecap="round" stroke-linejoin="round" fill="none"/>
<path transform="translate(1559.6 1800)" d="M3.81 -6.79L4.52 -7.5L5.95 -8.21L9.52 -8.21L10.95 -7.5L11.66 -6.79L12.38 -5.36L12.38 -3.93L11.66 -1.79L3.09 6.79L12.38 6.79M18.81 6.79L18.81 -8.21L27.38 6.79L27.38 -8.21M33.09 -8.21L42.38 -8.21L37.38 -2.5L39.52 -2.5L40.95 -1.79L41.66 -1.07L42.38 0.36L42.38 3.93L41.66 5.36L40.95 6.07L39.52 6.79L35.24 6.79L33.81 6.07L33.09 5.36M49.52 6.79L52.38 6.79L53.81 6.07L54.52 5.36L55.95 3.21L56.66 0.36L56.66 -5.36L55.95 -6.79L55.24 -7.5L53.81 -8.21L50.95 -8.21L49.52 -7.5L48.81 -6.79L48.09 -5.36L48.09 -1.79L48.81 -0.36L49.52 0.36L50.95 1.07L53.81 1.07L55.24 0.36L55.95 -0.36L56.66 -1.79M65.95 -8.21L67.38 -8.21L68.81 -7.5L69.52 -6.79L70.24 -5.36L70.95 -2.5L70.95 1.07L70.24 3.93L69.52 5.36L68.81 6.07L67.38 6.79L65.95 6.79L64.52 6.07L63.81 5.36L63.09 3.93L62.38 1.07L62.38 -2.5L63.09 -5.36L63.81 -6.79L64.52 -7.5L65.95 -8.21M83.81 -3.21L83.81 6.79M80.24 -8.93L76.66 1.79L85.95 1.79" stroke="#006464" stroke-width="1.9" stroke-linecap="round" stroke-linejoin="round" fill="none"/>
<path transform="translate(1110 1935) rotate(-90)" d="M-18.93 -7.5L-20.36 -8.21L-22.5 -8.21L-24.64 -7.5L-26.07 -6.07L-26.79 -4.64L-27.5 -1.79L-27.5 0.36L-26.79 3.21L-26.07 4.64L-24.64 6.07L-22.5 6.79L-21.07 6.79L-18.93 6.07L-18.21 5.36L-18.21 0.36L-21.07 0.36M-11.79 6.79L-11.79 -8.21L-3.21 6.79L-3.21 -8.21M3.93 6.79L3.93 -8.21L7.5 -8.21L9.64 -7.5L11.07 -6.07L11.79 -4.64L12.5 -1.79L12.5 0.36L11.79 3.21L11.07 4.64L9.64 6.07L7.5 6.79L3.93 6.79M18.93 6.79L18.93 -8.21L22.5 -8.21L24.64 -7.5L26.07 -6.07L26.79 -4.64L27.5 -1.79L27.5 0.36L26.79 3.21L26.07 4.64L24.64 6.07L22.5 6.79L18.93 6.79" stroke="#006464" stroke-width="1.9" stroke-linecap="round" stroke-linejoin="round" fill="none"/>
<path transform="translate(420 700.8)" d="M13.09 -2.14L12.38 -1.43L10.24 -0.71L8.81 -0.71L6.66 -1.43L5.24 -2.86L4.52 -4.29L3.81 -7.14L3.81 -9.29L4.52 -12.14L5.24 -13.57L6.66 -15L8.81 -15.71L10.24 -15.71L12.38 -15L13.09 -14.29M26.66 -15.71L19.52 -15.71L18.81 -8.57L19.52 -9.29L20.95 -10L24.52 -10L25.95 -9.29L26.66 -8.57L27.38 -7.14L27.38 -3.57L26.66 -2.14L25.95 -1.43L24.52 -0.71L20.95 -0.71L19.52 -1.43L18.81 -2.14M41.66 -0.71L33.09 -0.71M37.38 -0.71L37.38 -15.71L35.95 -13.57L34.52 -12.14L33.09 -11.43M70.24 -16.43L57.38 2.86M84.52 -15.71L89.52 -0.71L94.52 -15.71M99.52 -0.71L99.52 -10.71M98.81 -15L99.52 -15.71L100.24 -15L99.52 -14.29L98.81 -15L99.52 -15.71M113.09 -0.71L113.09 -15.71M113.09 -1.43L111.66 -0.71L108.81 -0.71L107.38 -1.43L106.66 -2.14L105.95 -3.57L105.95 -7.86L106.66 -9.29L107.38 -10L108.81 -10.71L111.66 -10.71L113.09 -10M125.95 -1.43L124.52 -0.71L121.66 -0.71L120.24 -1.43L119.52 -2.86L119.52 -8.57L120.24 -10L121.66 -10.71L124.52 -10.71L125.95 -10L126.66 -8.57L126.66 -7.14L119.52 -5.71M135.24 -0.71L133.81 -1.43L133.09 -2.14L132.38 -3.57L132.38 -7.86L133.09 -9.29L133.81 -10L135.24 -10.71L137.38 -10.71L138.81 -10L139.52 -9.29L140.24 -7.86L140.24 -3.57L139.52 -2.14L138.81 -1.43L137.38 -0.71L135.24 -0.71M158.09 -0.71L158.09 -15.71M165.24 -10.71L165.24 -0.71M165.24 -9.29L165.95 -10L167.38 -10.71L169.52 -10.71L170.95 -10L171.66 -8.57L171.66 -0.71" stroke="#0f0f0f" stroke-width="1.9" stroke-linecap="round" stroke-linejoin="round" fill="none"/>
<path transform="translate(615 700.8)" d="M3.81 -5L10.95 -5M2.38 -0.71L7.38 -15.71L12.38 -0.71M15.95 -15.71L25.24 -15.71L20.24 -10L22.38 -10L23.81 -9.29L24.52 -8.57L25.24 -7.14L25.24 -3.57L24.52 -2.14L23.81 -1.43L22.38 -0.71L18.09 -0.71L16.66 -1.43L15.95 -2.14M30.95 -10.71L41.66 -10.71M35.24 -17.14L30.95 2.14M40.24 -4.29L29.52 -4.29M35.95 2.14L40.24 -17.14M54.52 -0.71L45.95 -0.71M50.24 -0.71L50.24 -15.71L48.81 -13.57L47.38 -12.14L45.95 -11.43M59.52 -15.71L68.81 -15.71L63.81 -10L65.95 -10L67.38 -9.29L68.09 -8.57L68.81 -7.14L68.81 -3.57L68.09 -2.14L67.38 -1.43L65.95 -0.71L61.66 -0.71L60.24 -1.43L59.52 -2.14M97.38 -16.43L84.52 2.86M113.09 -5L120.24 -5M111.66 -0.71L116.66 -15.71L121.66 -0.71M133.09 -10.71L133.09 -0.71M126.66 -10.71L126.66 -2.86L127.38 -1.43L128.81 -0.71L130.95 -0.71L132.38 -1.43L133.09 -2.14M146.66 -0.71L146.66 -15.71M146.66 -1.43L145.24 -0.71L142.38 -0.71L140.95 -1.43L140.24 -2.14L139.52 -3.57L139.52 -7.86L140.24 -9.29L140.95 -10L142.38 -10.71L145.24 -10.71L146.66 -10M153.81 -0.71L153.81 -10.71M153.09 -15L153.81 -15.71L154.52 -15L153.81 -14.29L153.09 -15L153.81 -15.71M163.09 -0.71L161.66 -1.43L160.95 -2.14L160.24 -3.57L160.24 -7.86L160.95 -9.29L161.66 -10L163.09 -10.71L165.24 -10.71L166.66 -10L167.38 -9.29L168.09 -7.86L168.09 -3.57L167.38 -2.14L166.66 -1.43L165.24 -0.71L163.09 -0.71M185.95 -0.71L185.95 -15.71M193.09 -10.71L193.09 -0.71M193.09 -9.29L193.81 -10L195.24 -10.71L197.38 -10.71L198.81 -10L199.52 -8.57L199.52 -0.71" stroke="#0f0f0f" stroke-width="1.9" stroke-linecap="round" stroke-linejoin="round" fill="none"/>
<path transform="translate(810 700.8)" d="M13.09 -0.71L8.09 -7.86M4.52 -0.71L4.52 -15.71L10.24 -15.71L11.66 -15L12.38 -14.29L13.09 -12.86L13.09 -10.71L12.38 -9.29L11.66 -8.57L10.24 -7.86L4.52 -7.86M25.95 -10.71L25.95 -0.71M22.38 -16.43L18.81 -5.71L28.09 -5.71M41.66 -0.71L33.09 -0.71M37.38 -0.71L37.38 -15.71L35.95 -13.57L34.52 -12.14L33.09 -11.43M70.24 -16.43L57.38 2.86M84.52 -15.71L89.52 -0.71L94.52 -15.71M108.09 -2.14L107.38 -1.43L105.24 -0.71L103.81 -0.71L101.66 -1.43L100.24 -2.86L99.52 -4.29L98.81 -7.14L98.81 -9.29L99.52 -12.14L100.24 -13.57L101.66 -15L103.81 -15.71L105.24 -15.71L107.38 -15L108.09 -14.29M123.09 -2.14L122.38 -1.43L120.24 -0.71L118.81 -0.71L116.66 -1.43L115.24 -2.86L114.52 -4.29L113.81 -7.14L113.81 -9.29L114.52 -12.14L115.24 -13.57L116.66 -15L118.81 -15.71L120.24 -15.71L122.38 -15L123.09 -14.29" stroke="#0f0f0f" stroke-width="1.9" stroke-linecap="round" stroke-linejoin="round" fill="none"/>
<path transform="translate(1620 700.8)" d="M3.81 -5L10.95 -5M2.38 -0.71L7.38 -15.71L12.38 -0.71M24.52 -15.71L17.38 -15.71L16.66 -8.57L17.38 -9.29L18.81 -10L22.38 -10L23.81 -9.29L24.52 -8.57L25.24 -7.14L25.24 -3.57L24.52 -2.14L23.81 -1.43L22.38 -0.71L18.81 -0.71L17.38 -1.43L16.66 -2.14" stroke="#0f0f0f" stroke-width="1.9" stroke-linecap="round" stroke-linejoin="round" fill="none"/>
<path transform="translate(1890 1840.8)" d="M2.38 -15.71L7.38 -0.71L12.38 -15.71M17.38 -0.71L17.38 -10.71M16.66 -15L17.38 -15.71L18.09 -15L17.38 -14.29L16.66 -15L17.38 -15.71M30.95 -0.71L30.95 -15.71M30.95 -1.43L29.52 -0.71L26.66 -0.71L25.24 -1.43L24.52 -2.14L23.81 -3.57L23.81 -7.86L24.52 -9.29L25.24 -10L26.66 -10.71L29.52 -10.71L30.95 -10M43.81 -1.43L42.38 -0.71L39.52 -0.71L38.09 -1.43L37.38 -2.86L37.38 -8.57L38.09 -10L39.52 -10.71L42.38 -10.71L43.81 -10L44.52 -8.57L44.52 -7.14L37.38 -5.71M53.09 -0.71L51.66 -1.43L50.95 -2.14L50.24 -3.57L50.24 -7.86L50.95 -9.29L51.66 -10L53.09 -10.71L55.24 -10.71L56.66 -10L57.38 -9.29L58.09 -7.86L58.09 -3.57L57.38 -2.14L56.66 -1.43L55.24 -0.71L53.09 -0.71M78.81 -15.71L81.66 -15.71L83.09 -15L84.52 -13.57L85.24 -10.71L85.24 -5.71L84.52 -2.86L83.09 -1.43L81.66 -0.71L78.81 -0.71L77.38 -1.43L75.95 -2.86L75.24 -5.71L75.24 -10.71L75.95 -13.57L77.38 -15L78.81 -15.71M98.09 -10.71L98.09 -0.71M91.66 -10.71L91.66 -2.86L92.38 -1.43L93.81 -0.71L95.95 -0.71L97.38 -1.43L98.09 -2.14M103.09 -10.71L108.81 -10.71M105.24 -15.71L105.24 -2.86L105.95 -1.43L107.38 -0.71L108.81 -0.71" stroke="#0f0f0f" stroke-width="1.9" stroke-linecap="round" stroke-linejoin="round" fill="none"/>
<path transform="translate(1890 1945.8)" d="M12.38 -15L10.95 -15.71L8.81 -15.71L6.66 -15L5.24 -13.57L4.52 -12.14L3.81 -9.29L3.81 -7.14L4.52 -4.29L5.24 -2.86L6.66 -1.43L8.81 -0.71L10.24 -0.71L12.38 -1.43L13.09 -2.14L13.09 -7.14L10.24 -7.14M19.52 -0.71L19.52 -10.71M19.52 -7.86L20.24 -9.29L20.95 -10L22.38 -10.71L23.81 -10.71M30.95 -0.71L29.52 -1.43L28.81 -2.14L28.09 -3.57L28.09 -7.86L28.81 -9.29L29.52 -10L30.95 -10.71L33.09 -10.71L34.52 -10L35.24 -9.29L35.95 -7.86L35.95 -3.57L35.24 -2.14L34.52 -1.43L33.09 -0.71L30.95 -0.71M48.81 -10.71L48.81 -0.71M42.38 -10.71L42.38 -2.86L43.09 -1.43L44.52 -0.71L46.66 -0.71L48.09 -1.43L48.81 -2.14M55.95 -10.71L55.95 -0.71M55.95 -9.29L56.66 -10L58.09 -10.71L60.24 -10.71L61.66 -10L62.38 -8.57L62.38 -0.71M75.95 -0.71L75.95 -15.71M75.95 -1.43L74.52 -0.71L71.66 -0.71L70.24 -1.43L69.52 -2.14L68.81 -3.57L68.81 -7.86L69.52 -9.29L70.24 -10L71.66 -10.71L74.52 -10.71L75.95 -10M97.38 -15.71L100.24 -15.71L101.66 -15L103.09 -13.57L103.81 -10.71L103.81 -5.71L103.09 -2.86L101.66 -1.43L100.24 -0.71L97.38 -0.71L95.95 -1.43L94.52 -2.86L93.81 -5.71L93.81 -10.71L94.52 -13.57L95.95 -15L97.38 -15.71M116.66 -10.71L116.66 -0.71M110.24 -10.71L110.24 -2.86L110.95 -1.43L112.38 -0.71L114.52 -0.71L115.95 -1.43L116.66 -2.14M121.66 -10.71L127.38 -10.71M123.81 -15.71L123.81 -2.86L124.52 -1.43L125.95 -0.71L127.38 -0.71" stroke="#0f0f0f" stroke-width="1.9" stroke-linecap="round" stroke-linejoin="round" fill="none"/>
<path transform="translate(1890 1975.8)" d="M3.81 -5L10.95 -5M2.38 -0.71L7.38 -15.71L12.38 -0.71M23.81 -10.71L23.81 -0.71M17.38 -10.71L17.38 -2.86L18.09 -1.43L19.52 -0.71L21.66 -0.71L23.09 -1.43L23.81 -2.14M37.38 -0.71L37.38 -15.71M37.38 -1.43L35.95 -0.71L33.09 -0.71L31.66 -1.43L30.95 -2.14L30.24 -3.57L30.24 -7.86L30.95 -9.29L31.66 -10L33.09 -10.71L35.95 -10.71L37.38 -10M44.52 -0.71L44.52 -10.71M43.81 -15L44.52 -15.71L45.24 -15L44.52 -14.29L43.81 -15L44.52 -15.71M53.81 -0.71L52.38 -1.43L51.66 -2.14L50.95 -3.57L50.95 -7.86L51.66 -9.29L52.38 -10L53.81 -10.71L55.95 -10.71L57.38 -10L58.09 -9.29L58.81 -7.86L58.81 -3.57L58.09 -2.14L57.38 -1.43L55.95 -0.71L53.81 -0.71M79.52 -15.71L82.38 -15.71L83.81 -15L85.24 -13.57L85.95 -10.71L85.95 -5.71L85.24 -2.86L83.81 -1.43L82.38 -0.71L79.52 -0.71L78.09 -1.43L76.66 -2.86L75.95 -5.71L75.95 -10.71L76.66 -13.57L78.09 -15L79.52 -15.71M98.81 -10.71L98.81 -0.71M92.38 -10.71L92.38 -2.86L93.09 -1.43L94.52 -0.71L96.66 -0.71L98.09 -1.43L98.81 -2.14M103.81 -10.71L109.52 -10.71M105.95 -15.71L105.95 -2.86L106.66 -1.43L108.09 -0.71L109.52 -0.71" stroke="#0f0f0f" stroke-width="1.9" stroke-linecap="round" stroke-linejoin="round" fill="none"/>
<path d="M1320 659.1L1320 1485.9" stroke="#100e98" stroke-width="1.9" stroke-linecap="butt" fill="none" stroke-dasharray="10.8 7.2"/>
<path d="M1319.1 1485L2010.9 1485" stroke="#100e98" stroke-width="1.9" stroke-linecap="butt" fill="none" stroke-dasharray="10.8 7.2"/>
<path d="M2010 1454.1L2010 1485.9" stroke="#100e98" stroke-width="1.9" stroke-linecap="butt" fill="none" stroke-dasharray="10.8 7.2"/>
<path d="M2010 1455.9L2010 659.1" stroke="#100e98" stroke-width="1.9" stroke-linecap="butt" fill="none" stroke-dasharray="10.8 7.2"/>
<path d="M2010.9 660L1319.1 660" stroke="#100e98" stroke-width="1.9" stroke-linecap="butt" fill="none" stroke-dasharray="10.8 7.2"/>
<path d="M1050 1649.1L1050 2055.9" stroke="#100e98" stroke-width="1.9" stroke-linecap="butt" fill="none" stroke-dasharray="10.8 7.2"/>
<path d="M1049.1 2070L2055.9 2070" stroke="#100e98" stroke-width="1.9" stroke-linecap="butt" fill="none" stroke-dasharray="10.8 7.2"/>
<path d="M2055 1649.1L2055 2070.9" stroke="#100e98" stroke-width="1.9" stroke-linecap="butt" fill="none" stroke-dasharray="10.8 7.2"/>
<path d="M1049.1 1650L2055.9 1650" stroke="#100e98" stroke-width="1.9" stroke-linecap="butt" fill="none" stroke-dasharray="10.8 7.2"/>
<path d="M420 705L420 1635" stroke="#0e8e10" stroke-width="1.8" stroke-linecap="round" fill="none"/>
<path d="M420 1635L810 1635" stroke="#0e8e10" stroke-width="1.8" stroke-linecap="round" fill="none"/>
<path d="M615 705L615 1500" stroke="#0e8e10" stroke-width="1.8" stroke-linecap="round" fill="none"/>
<path d="M615 1500L810 1500" stroke="#0e8e10" stroke-width="1.8" stroke-linecap="round" fill="none"/>
<path d="M810 705L810 1365" stroke="#0e8e10" stroke-width="1.8" stroke-linecap="round" fill="none"/>
<path d="M930 1335L1125 1335" stroke="#0e8e10" stroke-width="1.8" stroke-linecap="round" fill="none"/>
<path d="M1125 1335L1125 960" stroke="#0e8e10" stroke-width="1.8" stroke-linecap="round" fill="none"/>
<path d="M1125 960L1815 960" stroke="#0e8e10" stroke-width="1.8" stroke-linecap="round" fill="none"/>
<path d="M1815 960L1815 840" stroke="#0e8e10" stroke-width="1.8" stroke-linecap="round" fill="none"/>
<path d="M930 1395L1125 1395" stroke="#0e8e10" stroke-width="1.8" stroke-linecap="round" fill="none"/>
<path d="M1125 1395L1125 1710" stroke="#0e8e10" stroke-width="1.8" stroke-linecap="round" fill="none"/>
<path d="M1125 1710L1530 1710" stroke="#0e8e10" stroke-width="1.8" stroke-linecap="round" fill="none"/>
<path d="M1530 1710L1530 1725" stroke="#0e8e10" stroke-width="1.8" stroke-linecap="round" fill="none"/>
<path d="M930 1470L1440 1470" stroke="#0e8e10" stroke-width="1.8" stroke-linecap="round" fill="none"/>
<path d="M1440 1470L1440 1230" stroke="#0e8e10" stroke-width="1.8" stroke-linecap="round" fill="none"/>
<path d="M930 1530L975 1530" stroke="#0e8e10" stroke-width="1.8" stroke-linecap="round" fill="none"/>
<path d="M975 1530L975 1980" stroke="#0e8e10" stroke-width="1.8" stroke-linecap="round" fill="none"/>
<path d="M975 1980L1890 1980" stroke="#0e8e10" stroke-width="1.8" stroke-linecap="round" fill="none"/>
<path d="M930 1605L1185 1605" stroke="#0e8e10" stroke-width="1.8" stroke-linecap="round" fill="none"/>
<path d="M1185 1605L1185 1050" stroke="#0e8e10" stroke-width="1.8" stroke-linecap="round" fill="none"/>
<path d="M1185 1050L1560 1050" stroke="#0e8e10" stroke-width="1.8" stroke-linecap="round" fill="none"/>
<path d="M930 1665L1065 1665" stroke="#0e8e10" stroke-width="1.8" stroke-linecap="round" fill="none"/>
<path d="M1065 1665L1065 1785" stroke="#0e8e10" stroke-width="1.8" stroke-linecap="round" fill="none"/>
<path d="M1065 1785L1440 1785" stroke="#0e8e10" stroke-width="1.8" stroke-linecap="round" fill="none"/>
<path d="M1545 750L1485 795" stroke="#0e8e10" stroke-width="1.8" stroke-linecap="round" fill="none"/>
<path d="M1485 795L1485 1050" stroke="#0e8e10" stroke-width="1.8" stroke-linecap="round" fill="none"/>
<path d="M1605 750L1620 750" stroke="#0e8e10" stroke-width="1.8" stroke-linecap="round" fill="none"/>
<path d="M1620 750L1620 705" stroke="#0e8e10" stroke-width="1.8" stroke-linecap="round" fill="none"/>
<path d="M1485 855L1545 855" stroke="#0e8e10" stroke-width="1.8" stroke-linecap="round" fill="none"/>
<path d="M1605 855L1695 855" stroke="#0e8e10" stroke-width="1.8" stroke-linecap="round" fill="none"/>
<path d="M1695 855L1695 750" stroke="#0e8e10" stroke-width="1.8" stroke-linecap="round" fill="none"/>
<path d="M1710 870L1710 840" stroke="#0e8e10" stroke-width="1.8" stroke-linecap="round" fill="none"/>
<path d="M1710 840L1890 840" stroke="#0e8e10" stroke-width="1.8" stroke-linecap="round" fill="none"/>
<path d="M1890 840L1890 960" stroke="#0e8e10" stroke-width="1.8" stroke-linecap="round" fill="none"/>
<path d="M1980 840L1980 1050" stroke="#0e8e10" stroke-width="1.8" stroke-linecap="round" fill="none"/>
<path d="M1980 1050L1950 1050" stroke="#0e8e10" stroke-width="1.8" stroke-linecap="round" fill="none"/>
<path d="M1680 1050L1830 1050" stroke="#0e8e10" stroke-width="1.8" stroke-linecap="round" fill="none"/>
<path d="M1710 930L1710 1260" stroke="#0e8e10" stroke-width="1.8" stroke-linecap="round" fill="none"/>
<path d="M1560 1230L1860 1230" stroke="#0e8e10" stroke-width="1.8" stroke-linecap="round" fill="none"/>
<path d="M1920 1230L1950 1230" stroke="#0e8e10" stroke-width="1.8" stroke-linecap="round" fill="none"/>
<path d="M1950 1230L1950 1050" stroke="#0e8e10" stroke-width="1.8" stroke-linecap="round" fill="none"/>
<path d="M1710 1320L1710 1365" stroke="#0e8e10" stroke-width="1.8" stroke-linecap="round" fill="none"/>
<path d="M1380 1770L1380 1800" stroke="#0e8e10" stroke-width="1.8" stroke-linecap="round" fill="none"/>
<path d="M1380 1860L1380 1950" stroke="#0e8e10" stroke-width="1.8" stroke-linecap="round" fill="none"/>
<path d="M1380 1950L1890 1950" stroke="#0e8e10" stroke-width="1.8" stroke-linecap="round" fill="none"/>
<path d="M1155 1920L1410 1920" stroke="#0e8e10" stroke-width="1.8" stroke-linecap="round" fill="none"/>
<path d="M1470 1920L1530 1920" stroke="#0e8e10" stroke-width="1.8" stroke-linecap="round" fill="none"/>
<path d="M1530 1920L1530 1845" stroke="#0e8e10" stroke-width="1.8" stroke-linecap="round" fill="none"/>
<path d="M1530 1845L1890 1845" stroke="#0e8e10" stroke-width="1.8" stroke-linecap="round" fill="none"/>
<circle cx="1485" cy="855" r="5.9" stroke="none" stroke-width="0" fill="#0e8e10"/>
<circle cx="1485" cy="1050" r="5.9" stroke="none" stroke-width="0" fill="#0e8e10"/>
<circle cx="1710" cy="1050" r="5.9" stroke="none" stroke-width="0" fill="#0e8e10"/>
<circle cx="1710" cy="1230" r="5.9" stroke="none" stroke-width="0" fill="#0e8e10"/>
<circle cx="1815" cy="840" r="5.9" stroke="none" stroke-width="0" fill="#0e8e10"/>
<circle cx="1890" cy="840" r="5.9" stroke="none" stroke-width="0" fill="#0e8e10"/>
<circle cx="1950" cy="1050" r="5.9" stroke="none" stroke-width="0" fill="#0e8e10"/>
<circle cx="1380" cy="1710" r="5.9" stroke="none" stroke-width="0" fill="#0e8e10"/>
<circle cx="1380" cy="1785" r="5.9" stroke="none" stroke-width="0" fill="#0e8e10"/>
<circle cx="1380" cy="1920" r="5.9" stroke="none" stroke-width="0" fill="#0e8e10"/>
<circle cx="1530" cy="1845" r="5.9" stroke="none" stroke-width="0" fill="#0e8e10"/></svg></body></html>
